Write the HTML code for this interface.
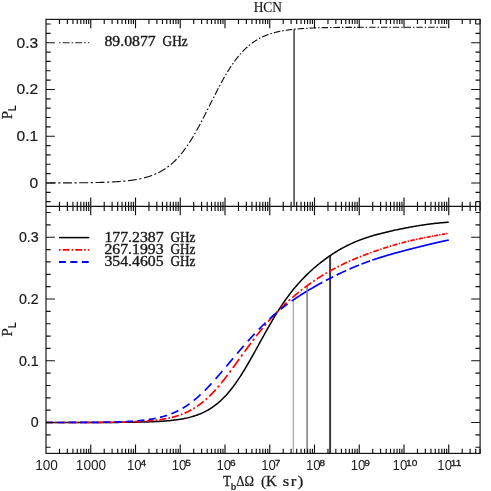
<!DOCTYPE html>
<html><head><meta charset="utf-8"><title>HCN</title>
<style>html,body{margin:0;padding:0;background:#fff;}body{width:491px;height:491px;overflow:hidden;font-family:"Liberation Sans",sans-serif;}svg{display:block;will-change:transform}</style>
</head><body>
<svg width="491" height="491" viewBox="0 0 491 491">
<rect width="491" height="491" fill="#fff"/>
<line x1="294.10" y1="29.23" x2="294.10" y2="206.36" stroke="#3a3a3a" stroke-width="1.45"/>
<path d="M46.00,182.95 L46.25,182.95 L46.50,182.95 L46.76,182.95 L47.01,182.95 L47.26,182.95 L47.51,182.95 L47.76,182.95 L48.02,182.95 L48.27,182.95 L48.52,182.95 L48.77,182.95 L49.02,182.95 L49.27,182.95 L49.53,182.95 L49.78,182.94 L50.03,182.94 L50.28,182.94 L50.53,182.94 L50.79,182.94 L51.04,182.94 L51.29,182.94 L51.54,182.94 L51.79,182.94 L52.05,182.94 L52.30,182.94 L52.55,182.94 L52.80,182.94 L53.05,182.94 L53.30,182.94 L53.56,182.94 L53.81,182.94 L54.06,182.93 L54.31,182.93 L54.56,182.93 L54.82,182.93 L55.07,182.93 L55.32,182.93 L55.57,182.93 L55.70,182.93M58.28,182.92 L58.34,182.92 L58.59,182.92 L58.85,182.92 L59.10,182.92 L59.35,182.92 L59.60,182.92 L59.85,182.92 L60.11,182.92 L60.34,182.91M63.05,182.90 L63.13,182.90 L63.38,182.90 L63.63,182.90 L63.88,182.90 L64.14,182.90 L64.39,182.90 L64.64,182.90 L64.89,182.90 L65.14,182.90 L65.39,182.89 L65.65,182.89 L65.90,182.89 L66.15,182.89 L66.40,182.89 L66.65,182.89 L66.91,182.89 L67.16,182.89 L67.41,182.88 L67.66,182.88 L67.91,182.88 L68.17,182.88 L68.42,182.88 L68.67,182.88 L68.92,182.88 L69.17,182.87 L69.42,182.87 L69.68,182.87 L69.93,182.87 L70.18,182.87 L70.43,182.87 L70.68,182.86 L70.94,182.86 L71.19,182.86 L71.44,182.86 L71.69,182.86 L71.94,182.86 L71.95,182.86M74.53,182.84 L74.71,182.84 L74.97,182.84 L75.22,182.83 L75.47,182.83 L75.72,182.83 L75.97,182.83 L76.23,182.83 L76.48,182.82 L76.60,182.82M79.31,182.80 L79.50,182.80 L79.75,182.79 L80.00,182.79 L80.26,182.79 L80.51,182.79 L80.76,182.78 L81.01,182.78 L81.26,182.78 L81.51,182.77 L81.77,182.77 L82.02,182.77 L82.27,182.77 L82.52,182.76 L82.77,182.76 L83.03,182.76 L83.28,182.75 L83.53,182.75 L83.78,182.75 L84.03,182.75 L84.29,182.74 L84.54,182.74 L84.79,182.74 L85.04,182.73 L85.29,182.73 L85.54,182.73 L85.80,182.72 L86.05,182.72 L86.30,182.72 L86.55,182.71 L86.80,182.71 L87.06,182.70 L87.31,182.70 L87.56,182.70 L87.81,182.69 L88.06,182.69 L88.21,182.69M90.79,182.65 L90.83,182.64 L91.09,182.64 L91.34,182.64 L91.59,182.63 L91.84,182.63 L92.09,182.62 L92.35,182.62 L92.60,182.61 L92.85,182.61 L92.85,182.61M95.56,182.55 L95.62,182.55 L95.87,182.54 L96.12,182.54 L96.38,182.53 L96.63,182.53 L96.88,182.52 L97.13,182.51 L97.38,182.51 L97.63,182.50 L97.89,182.50 L98.14,182.49 L98.39,182.48 L98.64,182.48 L98.89,182.47 L99.15,182.46 L99.40,182.46 L99.65,182.45 L99.90,182.44 L100.15,182.44 L100.41,182.43 L100.66,182.42 L100.91,182.41 L101.16,182.41 L101.41,182.40 L101.66,182.39 L101.92,182.38 L102.17,182.38 L102.42,182.37 L102.67,182.36 L102.92,182.35 L103.18,182.34 L103.43,182.33 L103.68,182.33 L103.93,182.32 L104.18,182.31 L104.44,182.30 L104.46,182.30M107.04,182.20 L107.21,182.20 L107.46,182.19 L107.71,182.17 L107.96,182.16 L108.21,182.15 L108.47,182.14 L108.72,182.13 L108.97,182.12 L109.10,182.12M111.80,181.99 L111.99,181.98 L112.24,181.96 L112.50,181.95 L112.75,181.94 L113.00,181.92 L113.25,181.91 L113.50,181.90 L113.75,181.88 L114.01,181.87 L114.26,181.85 L114.51,181.84 L114.76,181.82 L115.01,181.81 L115.27,181.79 L115.52,181.78 L115.77,181.76 L116.02,181.75 L116.27,181.73 L116.53,181.71 L116.78,181.70 L117.03,181.68 L117.28,181.66 L117.53,181.65 L117.78,181.63 L118.04,181.61 L118.29,181.59 L118.54,181.58 L118.79,181.56 L119.04,181.54 L119.30,181.52 L119.55,181.50 L119.80,181.48 L120.05,181.46 L120.30,181.44 L120.56,181.42 L120.69,181.41M123.26,181.19 L123.33,181.19 L123.58,181.16 L123.83,181.14 L124.08,181.12 L124.33,181.09 L124.59,181.07 L124.84,181.04 L125.09,181.02 L125.31,180.99M128.00,180.70 L128.11,180.69 L128.36,180.66 L128.62,180.63 L128.87,180.60 L129.12,180.57 L129.37,180.54 L129.62,180.51 L129.87,180.48 L130.13,180.44 L130.38,180.41 L130.63,180.38 L130.88,180.34 L131.13,180.31 L131.39,180.28 L131.64,180.24 L131.89,180.21 L132.14,180.17 L132.39,180.14 L132.65,180.10 L132.90,180.06 L133.15,180.02 L133.40,179.99 L133.65,179.95 L133.90,179.91 L134.16,179.87 L134.41,179.83 L134.66,179.79 L134.91,179.75 L135.16,179.71 L135.42,179.67 L135.67,179.62 L135.92,179.58 L136.17,179.54 L136.42,179.49 L136.68,179.45 L136.81,179.42M139.33,178.94 L139.45,178.92 L139.70,178.87 L139.95,178.82 L140.20,178.76 L140.45,178.71 L140.71,178.66 L140.96,178.60 L141.21,178.55 L141.32,178.52M143.90,177.91 L143.98,177.89 L144.23,177.82 L144.48,177.76 L144.74,177.69 L144.99,177.63 L145.24,177.56 L145.49,177.49 L145.74,177.42 L145.99,177.35 L146.25,177.28 L146.50,177.21 L146.75,177.14 L147.00,177.06 L147.25,176.99 L147.51,176.91 L147.76,176.84 L148.01,176.76 L148.26,176.68 L148.51,176.60 L148.77,176.52 L149.02,176.44 L149.27,176.36 L149.52,176.28 L149.77,176.19 L150.02,176.11 L150.28,176.02 L150.53,175.94 L150.78,175.85 L151.03,175.76 L151.28,175.67 L151.54,175.58 L151.79,175.49 L152.04,175.39 L152.14,175.36M154.40,174.47 L154.56,174.40 L154.81,174.30 L155.06,174.19 L155.31,174.08 L155.57,173.97 L155.82,173.86 L156.07,173.75 L156.17,173.70M158.44,172.63 L158.59,172.56 L158.84,172.43 L159.09,172.30 L159.34,172.17 L159.60,172.04 L159.85,171.91 L160.10,171.77 L160.35,171.64 L160.60,171.50 L160.86,171.36 L161.11,171.22 L161.36,171.08 L161.61,170.94 L161.86,170.79 L162.11,170.64 L162.37,170.50 L162.62,170.35 L162.87,170.20 L163.12,170.04 L163.37,169.89 L163.63,169.73 L163.88,169.57 L164.13,169.41 L164.38,169.25 L164.63,169.09 L164.89,168.92 L165.14,168.76 L165.39,168.59 L165.51,168.51M167.42,167.16 L167.66,166.99 L167.91,166.80 L168.16,166.62 L168.41,166.42 L168.66,166.23 L168.91,166.04M170.81,164.51 L170.93,164.41 L171.18,164.19 L171.43,163.98 L171.69,163.76 L171.94,163.54 L172.19,163.32 L172.44,163.10 L172.69,162.87 L172.95,162.64 L173.20,162.41 L173.45,162.18 L173.70,161.94 L173.95,161.71 L174.20,161.47 L174.46,161.23 L174.71,160.98 L174.96,160.74 L175.21,160.49 L175.46,160.24 L175.72,159.98 L175.97,159.73 L176.22,159.47 L176.47,159.21 L176.64,159.04M178.20,157.36 L178.23,157.33 L178.49,157.05 L178.74,156.77 L178.99,156.48 L179.24,156.20 L179.42,156.00M180.97,154.17 L181.01,154.12 L181.26,153.82 L181.51,153.51 L181.76,153.20 L182.01,152.88 L182.27,152.57 L182.52,152.25 L182.77,151.93 L183.02,151.61 L183.27,151.28 L183.52,150.95 L183.78,150.62 L184.03,150.29 L184.28,149.95 L184.53,149.61 L184.78,149.27 L185.04,148.93 L185.29,148.58 L185.54,148.23 L185.75,147.94M187.04,146.10 L187.05,146.09 L187.30,145.72 L187.55,145.35 L187.81,144.98 L188.06,144.61M189.35,142.65 L189.57,142.31 L189.82,141.92 L190.07,141.53 L190.33,141.14 L190.58,140.74 L190.83,140.34 L191.08,139.93 L191.33,139.53 L191.58,139.12 L191.84,138.71 L192.09,138.30 L192.34,137.89 L192.59,137.47 L192.84,137.05 L193.10,136.63 L193.35,136.21 L193.41,136.10M194.53,134.19 L194.61,134.06 L194.86,133.62 L195.11,133.19 L195.36,132.75 L195.41,132.66M196.54,130.65 L196.62,130.52 L196.87,130.06 L197.13,129.61 L197.38,129.15 L197.63,128.70 L197.88,128.24 L198.13,127.78 L198.39,127.31 L198.64,126.85 L198.89,126.38 L199.14,125.91 L199.39,125.45 L199.64,124.97 L199.90,124.50 L200.15,124.03 L200.16,124.01M201.17,122.10 L201.41,121.64 L201.66,121.15 L201.91,120.67 L201.97,120.56M203.01,118.55 L203.17,118.23 L203.42,117.74 L203.67,117.25 L203.93,116.76 L204.18,116.26 L204.43,115.77 L204.68,115.27 L204.93,114.77 L205.19,114.28 L205.44,113.78 L205.69,113.28 L205.94,112.78 L206.19,112.28 L206.37,111.93M207.33,110.02 L207.45,109.77 L207.70,109.27 L207.96,108.77 L208.09,108.50M209.08,106.51 L209.22,106.25 L209.47,105.74 L209.72,105.24 L209.97,104.73 L210.22,104.23 L210.48,103.72 L210.73,103.22 L210.98,102.71 L211.23,102.21 L211.48,101.71 L211.73,101.20 L211.99,100.70 L212.24,100.20 L212.35,99.97M213.29,98.10 L213.50,97.69 L213.75,97.19 L214.00,96.69 L214.04,96.60M215.04,94.65 L215.26,94.21 L215.51,93.71 L215.76,93.22 L216.02,92.73 L216.27,92.23 L216.52,91.74 L216.77,91.25 L217.02,90.77 L217.28,90.28 L217.53,89.79 L217.78,89.31 L218.03,88.83 L218.28,88.34 L218.33,88.26M219.29,86.43 L219.54,85.95 L219.79,85.48 L220.05,85.01 L220.07,84.97M221.09,83.07 L221.31,82.67 L221.56,82.21 L221.81,81.75 L222.06,81.29 L222.31,80.84 L222.57,80.38 L222.82,79.93 L223.07,79.48 L223.32,79.03 L223.57,78.58 L223.82,78.14 L224.08,77.69 L224.33,77.25 L224.53,76.90M225.55,75.14 L225.59,75.08 L225.84,74.65 L226.09,74.22 L226.34,73.80 L226.38,73.74M227.47,71.93 L227.60,71.71 L227.85,71.30 L228.11,70.89 L228.36,70.49 L228.61,70.08 L228.86,69.68 L229.11,69.28 L229.37,68.88 L229.62,68.49 L229.87,68.10 L230.12,67.71 L230.37,67.32 L230.63,66.94 L230.88,66.55 L231.13,66.18 L231.20,66.07M232.32,64.41 L232.39,64.31 L232.64,63.95 L232.89,63.59 L233.14,63.23 L233.23,63.10M234.45,61.40 L234.66,61.12 L234.91,60.78 L235.16,60.44 L235.41,60.10 L235.66,59.76 L235.91,59.43 L236.17,59.10 L236.42,58.77 L236.67,58.45 L236.92,58.13 L237.17,57.81 L237.43,57.49 L237.68,57.17 L237.93,56.86 L238.18,56.55 L238.43,56.25 L238.67,55.96M239.95,54.45 L240.20,54.16 L240.45,53.88 L240.70,53.59 L240.95,53.31 L241.00,53.25M242.41,51.72 L242.46,51.66 L242.72,51.40 L242.97,51.13 L243.22,50.87 L243.47,50.61 L243.72,50.36 L243.97,50.10 L244.23,49.85 L244.48,49.60 L244.73,49.35 L244.98,49.11 L245.23,48.87 L245.49,48.63 L245.74,48.39 L245.99,48.15 L246.24,47.92 L246.49,47.69 L246.75,47.46 L247.00,47.23 L247.25,47.01 L247.31,46.95M248.81,45.66 L249.01,45.49 L249.26,45.28 L249.52,45.08 L249.77,44.87 L250.02,44.67 L250.03,44.66M251.67,43.40 L251.78,43.32 L252.03,43.13 L252.29,42.95 L252.54,42.76 L252.79,42.58 L253.04,42.40 L253.29,42.23 L253.55,42.05 L253.80,41.88 L254.05,41.71 L254.30,41.54 L254.55,41.37 L254.81,41.21 L255.06,41.04 L255.31,40.88 L255.56,40.72 L255.81,40.56 L256.06,40.40 L256.32,40.25 L256.57,40.09 L256.82,39.94 L257.07,39.79 L257.32,39.64M259.03,38.67 L259.09,38.64 L259.34,38.51 L259.59,38.37 L259.84,38.24 L260.09,38.11 L260.35,37.98 L260.41,37.94M262.26,37.03 L262.36,36.98 L262.61,36.87 L262.87,36.75 L263.12,36.63 L263.37,36.52 L263.62,36.41 L263.87,36.30 L264.12,36.19 L264.38,36.08 L264.63,35.97 L264.88,35.86 L265.13,35.76 L265.38,35.65 L265.64,35.55 L265.89,35.45 L266.14,35.35 L266.39,35.25 L266.64,35.15 L266.90,35.06 L267.15,34.96 L267.40,34.86 L267.65,34.77 L267.90,34.68 L268.15,34.59 L268.41,34.50 L268.49,34.47M270.33,33.84 L270.42,33.81 L270.67,33.73 L270.93,33.65 L271.18,33.57 L271.43,33.49 L271.68,33.41 L271.81,33.37M273.77,32.81 L273.95,32.76 L274.20,32.69 L274.45,32.62 L274.70,32.55 L274.96,32.49 L275.21,32.42 L275.46,32.36 L275.71,32.29 L275.96,32.23 L276.21,32.17 L276.47,32.10 L276.72,32.04 L276.97,31.98 L277.22,31.92 L277.47,31.87 L277.73,31.81 L277.98,31.75 L278.23,31.69 L278.48,31.64 L278.73,31.58 L278.99,31.53 L279.24,31.47 L279.49,31.42 L279.74,31.37 L279.99,31.32 L280.24,31.26 L280.27,31.26M282.16,30.89 L282.26,30.88 L282.51,30.83 L282.76,30.78 L283.02,30.74 L283.27,30.70 L283.52,30.65 L283.68,30.62M285.67,30.30 L285.79,30.28 L286.04,30.24 L286.29,30.21 L286.54,30.17 L286.79,30.13 L287.05,30.09 L287.30,30.06 L287.55,30.02 L287.80,29.99 L288.05,29.95 L288.30,29.92 L288.56,29.88 L288.81,29.85 L289.06,29.82 L289.31,29.78 L289.56,29.75 L289.82,29.72 L290.07,29.69 L290.32,29.66 L290.57,29.62 L290.82,29.59 L291.08,29.56 L291.33,29.53 L291.58,29.51 L291.83,29.48 L292.08,29.45 L292.24,29.43M294.14,29.23 L294.35,29.21 L294.60,29.18 L294.85,29.16 L295.11,29.13 L295.36,29.11 L295.61,29.08 L295.66,29.08M297.65,28.90 L297.88,28.88 L298.13,28.86 L298.38,28.84 L298.63,28.82 L298.88,28.80 L299.14,28.78 L299.39,28.76 L299.64,28.74 L299.89,28.72 L300.14,28.70 L300.39,28.68 L300.65,28.66 L300.90,28.64 L301.15,28.63 L301.40,28.61 L301.65,28.59 L301.91,28.57 L302.16,28.56 L302.41,28.54 L302.66,28.52 L302.91,28.51 L303.17,28.49 L303.42,28.47 L303.67,28.46 L303.92,28.44 L304.17,28.43 L304.20,28.42M306.10,28.31 L306.19,28.31 L306.44,28.29 L306.69,28.28 L306.94,28.27 L307.20,28.25 L307.45,28.24 L307.61,28.23M309.60,28.13 L309.71,28.13 L309.97,28.12 L310.22,28.11 L310.47,28.09 L310.72,28.08 L310.97,28.07 L311.23,28.06 L311.48,28.05 L311.73,28.04 L311.98,28.03 L312.23,28.02 L312.48,28.01 L312.74,28.00 L312.99,27.99 L313.24,27.98 L313.49,27.97 L313.74,27.96 L314.00,27.95 L314.25,27.94 L314.50,27.93 L314.75,27.92 L315.00,27.91 L315.26,27.91 L315.51,27.90 L315.76,27.89 L316.01,27.88 L316.15,27.88M318.04,27.81 L318.28,27.81 L318.53,27.80 L318.78,27.79 L319.03,27.79 L319.29,27.78 L319.54,27.77 L319.56,27.77M321.54,27.72 L321.55,27.72 L321.80,27.71 L322.06,27.70 L322.31,27.70 L322.56,27.69 L322.81,27.69 L323.06,27.68 L323.32,27.67 L323.57,27.67 L323.82,27.66 L324.07,27.66 L324.32,27.65 L324.58,27.65 L324.83,27.64 L325.08,27.64 L325.33,27.63 L325.58,27.63 L325.83,27.62 L326.09,27.61 L326.34,27.61 L326.59,27.60 L326.84,27.60 L327.09,27.60 L327.35,27.59 L327.60,27.59 L327.85,27.58 L328.08,27.58M329.97,27.54 L330.12,27.54 L330.37,27.54 L330.62,27.53 L330.87,27.53 L331.12,27.53 L331.38,27.52 L331.48,27.52M333.47,27.49 L333.64,27.49 L333.89,27.49 L334.15,27.48 L334.40,27.48 L334.65,27.48 L334.90,27.47 L335.15,27.47 L335.41,27.47 L335.66,27.46 L335.91,27.46 L336.16,27.46 L336.41,27.45 L336.67,27.45 L336.92,27.45 L337.17,27.45 L337.42,27.44 L337.67,27.44 L337.92,27.44 L338.18,27.43 L338.43,27.43 L338.68,27.43 L338.93,27.43 L339.18,27.42 L339.44,27.42 L339.69,27.42 L339.94,27.42 L339.99,27.42M341.88,27.40 L341.95,27.40 L342.21,27.39 L342.46,27.39 L342.71,27.39 L342.96,27.39 L343.21,27.39 L343.39,27.38M345.38,27.37 L345.48,27.37 L345.73,27.37 L345.98,27.36 L346.24,27.36 L346.49,27.36 L346.74,27.36 L346.99,27.36 L347.24,27.36 L347.50,27.35 L347.75,27.35 L348.00,27.35 L348.25,27.35 L348.50,27.35 L348.76,27.35 L349.01,27.34 L349.26,27.34 L349.51,27.34 L349.76,27.34 L350.01,27.34 L350.27,27.34 L350.52,27.34 L350.77,27.33 L351.02,27.33 L351.27,27.33 L351.53,27.33 L351.78,27.33 L351.89,27.33M353.78,27.32 L353.79,27.32 L354.04,27.32 L354.30,27.32 L354.55,27.31 L354.80,27.31 L355.05,27.31 L355.28,27.31M357.26,27.30 L357.32,27.30 L357.57,27.30 L357.82,27.30 L358.07,27.30 L358.33,27.30 L358.58,27.30 L358.83,27.30 L359.08,27.30 L359.33,27.29 L359.59,27.29 L359.84,27.29 L360.09,27.29 L360.34,27.29 L360.59,27.29 L360.85,27.29 L361.10,27.29 L361.35,27.29 L361.60,27.29 L361.85,27.29 L362.10,27.29 L362.36,27.28 L362.61,27.28 L362.86,27.28 L363.11,27.28 L363.36,27.28 L363.62,27.28 L363.76,27.28M365.65,27.27 L365.88,27.27 L366.13,27.27 L366.39,27.27 L366.64,27.27 L366.89,27.27 L367.14,27.27 L367.15,27.27M369.13,27.27 L369.16,27.27 L369.41,27.27 L369.66,27.27 L369.91,27.26 L370.16,27.26 L370.42,27.26 L370.67,27.26 L370.92,27.26 L371.17,27.26 L371.42,27.26 L371.68,27.26 L371.93,27.26 L372.18,27.26 L372.43,27.26 L372.68,27.26 L372.94,27.26 L373.19,27.26 L373.44,27.26 L373.69,27.26 L373.94,27.26 L374.19,27.26 L374.45,27.26 L374.70,27.26 L374.95,27.26 L375.20,27.25 L375.45,27.25 L375.62,27.25M377.50,27.25 L377.72,27.25 L377.97,27.25 L378.22,27.25 L378.48,27.25 L378.73,27.25 L378.98,27.25 L379.00,27.25M380.98,27.25 L381.00,27.25 L381.25,27.25 L381.50,27.25 L381.75,27.25 L382.00,27.25 L382.25,27.25 L382.51,27.25 L382.76,27.24 L383.01,27.24 L383.26,27.24 L383.51,27.24 L383.77,27.24 L384.02,27.24 L384.27,27.24 L384.52,27.24 L384.77,27.24 L385.03,27.24 L385.28,27.24 L385.53,27.24 L385.78,27.24 L386.03,27.24 L386.28,27.24 L386.54,27.24 L386.79,27.24 L387.04,27.24 L387.29,27.24 L387.46,27.24M389.33,27.24 L389.56,27.24 L389.81,27.24 L390.06,27.24 L390.31,27.24 L390.57,27.24 L390.82,27.24 L390.83,27.24M392.80,27.24 L392.83,27.24 L393.09,27.24 L393.34,27.24 L393.59,27.24 L393.84,27.24 L394.09,27.24 L394.34,27.24 L394.60,27.24 L394.85,27.23 L395.10,27.23 L395.35,27.23 L395.60,27.23 L395.86,27.23 L396.11,27.23 L396.36,27.23 L396.61,27.23 L396.86,27.23 L397.12,27.23 L397.37,27.23 L397.62,27.23 L397.87,27.23 L398.12,27.23 L398.37,27.23 L398.63,27.23 L398.88,27.23 L399.13,27.23 L399.27,27.23M401.15,27.23 L401.40,27.23 L401.65,27.23 L401.90,27.23 L402.15,27.23 L402.40,27.23 L402.64,27.23M404.61,27.23 L404.67,27.23 L404.92,27.23 L405.18,27.23 L405.43,27.23 L405.68,27.23 L405.93,27.23 L406.18,27.23 L406.43,27.23 L406.69,27.23 L406.94,27.23 L407.19,27.23 L407.44,27.23 L407.69,27.23 L407.95,27.23 L408.20,27.23 L408.45,27.23 L408.70,27.23 L408.95,27.23 L409.21,27.23 L409.46,27.23 L409.71,27.23 L409.96,27.23 L410.21,27.23 L410.46,27.23 L410.72,27.23 L410.97,27.23 L411.07,27.23M412.94,27.23 L412.98,27.23 L413.24,27.23 L413.49,27.23 L413.74,27.23 L413.99,27.23 L414.24,27.23 L414.43,27.23M416.40,27.23 L416.51,27.23 L416.76,27.23 L417.01,27.23 L417.27,27.23 L417.52,27.23 L417.77,27.23 L418.02,27.23 L418.27,27.23 L418.52,27.23 L418.78,27.23 L419.03,27.23 L419.28,27.23 L419.53,27.23 L419.78,27.23 L420.04,27.23 L420.29,27.23 L420.54,27.23 L420.79,27.23 L421.04,27.23 L421.30,27.23 L421.55,27.23 L421.80,27.23 L422.05,27.23 L422.30,27.23 L422.55,27.23 L422.81,27.23 L422.84,27.23M424.71,27.23 L424.82,27.23 L425.07,27.23 L425.33,27.23 L425.58,27.23 L425.83,27.23 L426.08,27.23 L426.20,27.23M428.16,27.23 L428.35,27.23 L428.60,27.23 L428.85,27.23 L429.10,27.23 L429.36,27.23 L429.61,27.23 L429.86,27.23 L430.11,27.23 L430.36,27.23 L430.61,27.23 L430.87,27.23 L431.12,27.23 L431.37,27.23 L431.62,27.23 L431.87,27.23 L432.13,27.23 L432.38,27.23 L432.63,27.23 L432.88,27.23 L433.13,27.23 L433.39,27.23 L433.64,27.23 L433.89,27.23 L434.14,27.23 L434.39,27.23 L434.60,27.23M436.46,27.22 L436.66,27.22 L436.91,27.22 L437.16,27.22 L437.42,27.22 L437.67,27.22 L437.92,27.22 L437.95,27.22M439.91,27.22 L439.93,27.22 L440.19,27.22 L440.44,27.22 L440.69,27.22 L440.94,27.22 L441.19,27.22 L441.45,27.22 L441.70,27.22 L441.95,27.22 L442.20,27.22 L442.45,27.22 L442.70,27.22 L442.96,27.22 L443.21,27.22 L443.46,27.22 L443.71,27.22 L443.96,27.22 L444.22,27.22 L444.47,27.22 L444.72,27.22 L444.97,27.22 L445.22,27.22 L445.48,27.22 L445.73,27.22 L445.98,27.22 L446.23,27.22 L446.34,27.22M448.20,27.22 L448.25,27.22 L448.50,27.22 L448.75,27.22" fill="none" stroke="#111" stroke-width="1.15"/>
<line x1="293.30" y1="299.91" x2="293.30" y2="453.40" stroke="#9a9a9a" stroke-width="1.1"/>
<line x1="307.10" y1="285.75" x2="307.10" y2="453.40" stroke="#7c7c7c" stroke-width="1.5"/>
<line x1="330.10" y1="255.65" x2="330.10" y2="453.40" stroke="#3a3a3a" stroke-width="2.0"/>
<path d="M46.00,422.52 L47.01,422.52 L48.02,422.52 L49.03,422.52 L50.04,422.52 L51.05,422.52 L52.06,422.52 L53.07,422.52 L54.08,422.51 L55.08,422.51 L56.09,422.51 L57.10,422.51 L58.11,422.51 L59.12,422.51 L60.13,422.51 L61.14,422.51 L62.15,422.51 L63.16,422.51 L64.17,422.51 L65.18,422.51 L66.19,422.51 L67.20,422.51 L68.21,422.51 L69.22,422.51 L70.23,422.51 L71.23,422.51 L72.24,422.51 L73.25,422.51 L74.26,422.51 L75.27,422.50 L76.28,422.50 L77.29,422.50 L78.30,422.50 L79.31,422.50 L80.32,422.50 L81.33,422.50 L82.34,422.50 L83.35,422.50 L84.36,422.50 L85.37,422.49 L86.38,422.49 L87.39,422.49 L88.39,422.49 L89.40,422.49 L90.41,422.49 L91.42,422.49 L92.43,422.48 L93.44,422.48 L94.45,422.48 L95.46,422.48 L96.47,422.47 L97.48,422.47 L98.49,422.47 L99.50,422.47 L100.51,422.46 L101.52,422.46 L102.53,422.46 L103.54,422.46 L104.55,422.45 L105.55,422.45 L106.56,422.44 L107.57,422.44 L108.58,422.44 L109.59,422.43 L110.60,422.43 L111.61,422.42 L112.62,422.42 L113.63,422.41 L114.64,422.41 L115.65,422.40 L116.66,422.39 L117.67,422.39 L118.68,422.38 L119.69,422.37 L120.70,422.36 L121.70,422.35 L122.71,422.35 L123.72,422.34 L124.73,422.33 L125.74,422.32 L126.75,422.31 L127.76,422.29 L128.77,422.28 L129.78,422.27 L130.79,422.26 L131.80,422.24 L132.81,422.23 L133.82,422.21 L134.83,422.20 L135.84,422.18 L136.85,422.16 L137.86,422.14 L138.86,422.12 L139.87,422.10 L140.88,422.08 L141.89,422.05 L142.90,422.03 L143.91,422.00 L144.92,421.98 L145.93,421.95 L146.94,421.92 L147.95,421.89 L148.96,421.85 L149.97,421.82 L150.98,421.78 L151.99,421.74 L153.00,421.70 L154.01,421.66 L155.02,421.61 L156.02,421.56 L157.03,421.51 L158.04,421.46 L159.05,421.40 L160.06,421.34 L161.07,421.28 L162.08,421.22 L163.09,421.15 L164.10,421.07 L165.11,421.00 L166.12,420.92 L167.13,420.83 L168.14,420.75 L169.15,420.65 L170.16,420.56 L171.17,420.45 L172.17,420.34 L173.18,420.23 L174.19,420.11 L175.20,419.99 L176.21,419.85 L177.22,419.72 L178.23,419.57 L179.24,419.42 L180.25,419.26 L181.26,419.09 L182.27,418.91 L183.28,418.73 L184.29,418.53 L185.30,418.33 L186.31,418.11 L187.32,417.89 L188.33,417.65 L189.33,417.40 L190.34,417.14 L191.35,416.87 L192.36,416.58 L193.37,416.28 L194.38,415.97 L195.39,415.64 L196.40,415.30 L197.41,414.94 L198.42,414.56 L199.43,414.17 L200.44,413.76 L201.45,413.33 L202.46,412.88 L203.47,412.41 L204.48,411.92 L205.48,411.41 L206.49,410.88 L207.50,410.32 L208.51,409.74 L209.52,409.14 L210.53,408.51 L211.54,407.85 L212.55,407.17 L213.56,406.47 L214.57,405.73 L215.58,404.97 L216.59,404.18 L217.60,403.35 L218.61,402.50 L219.62,401.62 L220.63,400.71 L221.64,399.76 L222.64,398.78 L223.65,397.77 L224.66,396.73 L225.67,395.66 L226.68,394.55 L227.69,393.41 L228.70,392.23 L229.71,391.02 L230.72,389.78 L231.73,388.50 L232.74,387.19 L233.75,385.85 L234.76,384.48 L235.77,383.07 L236.78,381.64 L237.79,380.17 L238.80,378.67 L239.80,377.14 L240.81,375.59 L241.82,374.00 L242.83,372.39 L243.84,370.76 L244.85,369.10 L245.86,367.42 L246.87,365.71 L247.88,363.99 L248.89,362.25 L249.90,360.49 L250.91,358.72 L251.92,356.93 L252.93,355.13 L253.94,353.31 L254.95,351.49 L255.95,349.67 L256.96,347.83 L257.97,346.00 L258.98,344.16 L259.99,342.32 L261.00,340.48 L262.01,338.65 L263.02,336.82 L264.03,334.99 L265.04,333.17 L266.05,331.37 L267.06,329.57 L268.07,327.79 L269.08,326.01 L270.09,324.26 L271.10,322.52 L272.11,320.79 L273.11,319.09 L274.12,317.40 L275.13,315.73 L276.14,314.08 L277.15,312.46 L278.16,310.85 L279.17,309.27 L280.18,307.71 L281.19,306.18 L282.20,304.66 L283.21,303.17 L284.22,301.71 L285.23,300.27 L286.24,298.85 L287.25,297.45 L288.26,296.08 L289.27,294.74 L290.27,293.41 L291.28,292.11 L292.29,290.84 L293.30,289.58 L294.31,288.35 L295.32,287.14 L296.33,285.95 L297.34,284.78 L298.35,283.63 L299.36,282.50 L300.37,281.40 L301.38,280.31 L302.39,279.24 L303.40,278.18 L304.41,277.15 L305.42,276.13 L306.42,275.13 L307.43,274.14 L308.44,273.18 L309.45,272.22 L310.46,271.28 L311.47,270.36 L312.48,269.45 L313.49,268.56 L314.50,267.68 L315.51,266.81 L316.52,265.95 L317.53,265.11 L318.54,264.28 L319.55,263.47 L320.56,262.66 L321.57,261.87 L322.58,261.09 L323.58,260.33 L324.59,259.57 L325.60,258.83 L326.61,258.09 L327.62,257.37 L328.63,256.66 L329.64,255.97 L330.65,255.28 L331.66,254.60 L332.67,253.94 L333.68,253.29 L334.69,252.64 L335.70,252.01 L336.71,251.39 L337.72,250.78 L338.73,250.19 L339.73,249.60 L340.74,249.02 L341.75,248.46 L342.76,247.90 L343.77,247.36 L344.78,246.83 L345.79,246.30 L346.80,245.79 L347.81,245.29 L348.82,244.80 L349.83,244.31 L350.84,243.84 L351.85,243.38 L352.86,242.93 L353.87,242.48 L354.88,242.05 L355.89,241.62 L356.89,241.21 L357.90,240.80 L358.91,240.40 L359.92,240.01 L360.93,239.63 L361.94,239.26 L362.95,238.89 L363.96,238.54 L364.97,238.19 L365.98,237.84 L366.99,237.51 L368.00,237.18 L369.01,236.85 L370.02,236.54 L371.03,236.23 L372.04,235.92 L373.05,235.62 L374.05,235.33 L375.06,235.04 L376.07,234.76 L377.08,234.48 L378.09,234.21 L379.10,233.94 L380.11,233.67 L381.12,233.41 L382.13,233.15 L383.14,232.90 L384.15,232.65 L385.16,232.40 L386.17,232.16 L387.18,231.92 L388.19,231.69 L389.20,231.45 L390.20,231.22 L391.21,230.99 L392.22,230.77 L393.23,230.54 L394.24,230.32 L395.25,230.10 L396.26,229.89 L397.27,229.67 L398.28,229.46 L399.29,229.25 L400.30,229.05 L401.31,228.84 L402.32,228.64 L403.33,228.44 L404.34,228.24 L405.35,228.04 L406.36,227.85 L407.36,227.66 L408.37,227.47 L409.38,227.28 L410.39,227.09 L411.40,226.91 L412.41,226.73 L413.42,226.55 L414.43,226.38 L415.44,226.20 L416.45,226.03 L417.46,225.87 L418.47,225.70 L419.48,225.54 L420.49,225.38 L421.50,225.22 L422.51,225.07 L423.52,224.92 L424.52,224.77 L425.53,224.63 L426.54,224.49 L427.55,224.35 L428.56,224.21 L429.57,224.08 L430.58,223.95 L431.59,223.82 L432.60,223.70 L433.61,223.58 L434.62,223.46 L435.63,223.35 L436.64,223.24 L437.65,223.13 L438.66,223.03 L439.67,222.93 L440.67,222.83 L441.68,222.73 L442.69,222.64 L443.70,222.55 L444.71,222.47 L445.72,222.38 L446.73,222.30 L447.74,222.22 L448.75,222.15" fill="none" stroke="#000" stroke-width="1.5"/>
<path d="M46.00,422.51 L46.25,422.51 L46.50,422.51 L46.76,422.51 L47.01,422.51 L47.26,422.51 L47.51,422.51 L47.76,422.51 L48.02,422.51 L48.27,422.51 L48.52,422.51 L48.77,422.51 L49.02,422.51 L49.27,422.51 L49.53,422.51 L49.78,422.51 L50.03,422.51 L50.28,422.51 L50.53,422.51 L50.79,422.51 L51.04,422.51 L51.29,422.51 L51.54,422.51 L51.79,422.51 L52.05,422.51 L52.30,422.51 L52.55,422.51 L52.80,422.51 L52.90,422.51M54.90,422.51 L55.07,422.51 L55.32,422.51 L55.57,422.51 L55.82,422.51 L56.08,422.51 L56.33,422.51 L56.50,422.51M58.60,422.50 L58.85,422.50 L59.10,422.50 L59.35,422.50 L59.60,422.50 L59.85,422.50 L60.11,422.50 L60.36,422.50 L60.61,422.50 L60.86,422.50 L61.11,422.50 L61.36,422.50 L61.62,422.50 L61.87,422.50 L62.12,422.50 L62.37,422.50 L62.62,422.50 L62.88,422.50 L63.13,422.50 L63.38,422.50 L63.63,422.50 L63.88,422.50 L64.14,422.50 L64.39,422.50 L64.64,422.50 L64.89,422.50 L65.14,422.50 L65.39,422.50 L65.50,422.50M67.50,422.49 L67.66,422.49 L67.91,422.49 L68.17,422.49 L68.42,422.49 L68.67,422.49 L68.92,422.49 L69.10,422.49M71.20,422.49 L71.44,422.49 L71.69,422.49 L71.94,422.49 L72.20,422.49 L72.45,422.49 L72.70,422.49 L72.95,422.49 L73.20,422.49 L73.45,422.49 L73.71,422.48 L73.96,422.48 L74.21,422.48 L74.46,422.48 L74.71,422.48 L74.97,422.48 L75.22,422.48 L75.47,422.48 L75.72,422.48 L75.97,422.48 L76.23,422.48 L76.48,422.48 L76.73,422.48 L76.98,422.48 L77.23,422.48 L77.48,422.48 L77.74,422.48 L77.99,422.48 L78.10,422.48M80.10,422.47 L80.26,422.47 L80.51,422.47 L80.76,422.47 L81.01,422.47 L81.26,422.47 L81.51,422.47 L81.70,422.47M83.80,422.46 L84.03,422.46 L84.29,422.46 L84.54,422.46 L84.79,422.46 L85.04,422.46 L85.29,422.46 L85.54,422.46 L85.80,422.45 L86.05,422.45 L86.30,422.45 L86.55,422.45 L86.80,422.45 L87.06,422.45 L87.31,422.45 L87.56,422.45 L87.81,422.45 L88.06,422.45 L88.32,422.45 L88.57,422.44 L88.82,422.44 L89.07,422.44 L89.32,422.44 L89.57,422.44 L89.83,422.44 L90.08,422.44 L90.33,422.44 L90.58,422.44 L90.70,422.44M92.70,422.43 L92.85,422.43 L93.10,422.42 L93.35,422.42 L93.60,422.42 L93.86,422.42 L94.11,422.42 L94.30,422.42M96.40,422.41 L96.63,422.41 L96.88,422.40 L97.13,422.40 L97.38,422.40 L97.63,422.40 L97.89,422.40 L98.14,422.40 L98.39,422.40 L98.64,422.39 L98.89,422.39 L99.15,422.39 L99.40,422.39 L99.65,422.39 L99.90,422.38 L100.15,422.38 L100.41,422.38 L100.66,422.38 L100.91,422.38 L101.16,422.38 L101.41,422.37 L101.66,422.37 L101.92,422.37 L102.17,422.37 L102.42,422.37 L102.67,422.36 L102.92,422.36 L103.18,422.36 L103.30,422.36M105.30,422.34 L105.44,422.34 L105.69,422.34 L105.95,422.34 L106.20,422.33 L106.45,422.33 L106.70,422.33 L106.90,422.33M109.00,422.30 L109.22,422.30 L109.47,422.30 L109.72,422.30 L109.98,422.29 L110.23,422.29 L110.48,422.29 L110.73,422.28 L110.98,422.28 L111.24,422.28 L111.49,422.28 L111.74,422.27 L111.99,422.27 L112.24,422.27 L112.50,422.26 L112.75,422.26 L113.00,422.26 L113.25,422.25 L113.50,422.25 L113.75,422.25 L114.01,422.24 L114.26,422.24 L114.51,422.23 L114.76,422.23 L115.01,422.23 L115.27,422.22 L115.52,422.22 L115.77,422.22 L115.90,422.21M117.90,422.18 L118.04,422.18 L118.29,422.17 L118.54,422.17 L118.79,422.16 L119.04,422.16 L119.30,422.15 L119.50,422.15M121.60,422.11 L121.81,422.10 L122.07,422.10 L122.32,422.09 L122.57,422.09 L122.82,422.08 L123.07,422.08 L123.33,422.07 L123.58,422.07 L123.83,422.06 L124.08,422.05 L124.33,422.05 L124.59,422.04 L124.84,422.03 L125.09,422.03 L125.34,422.02 L125.59,422.02 L125.84,422.01 L126.10,422.00 L126.35,422.00 L126.60,421.99 L126.85,421.98 L127.10,421.98 L127.36,421.97 L127.61,421.96 L127.86,421.95 L128.11,421.95 L128.36,421.94 L128.50,421.94M130.50,421.87 L130.63,421.87 L130.88,421.86 L131.13,421.85 L131.39,421.84 L131.64,421.83 L131.89,421.82 L132.10,421.82M134.20,421.74 L134.41,421.73 L134.66,421.72 L134.91,421.71 L135.16,421.70 L135.42,421.69 L135.67,421.68 L135.92,421.67 L136.17,421.66 L136.42,421.64 L136.68,421.63 L136.93,421.62 L137.18,421.61 L137.43,421.60 L137.68,421.59 L137.93,421.57 L138.19,421.56 L138.44,421.55 L138.69,421.54 L138.94,421.52 L139.19,421.51 L139.45,421.50 L139.70,421.49 L139.95,421.47 L140.20,421.46 L140.45,421.44 L140.71,421.43 L140.96,421.42 L141.10,421.41M143.10,421.29 L143.22,421.28 L143.48,421.27 L143.73,421.25 L143.98,421.23 L144.23,421.22 L144.48,421.20 L144.70,421.19M146.80,421.04 L147.00,421.02 L147.25,421.00 L147.51,420.98 L147.76,420.96 L148.01,420.94 L148.26,420.92 L148.51,420.90 L148.77,420.88 L149.02,420.86 L149.27,420.84 L149.52,420.82 L149.77,420.80 L150.02,420.78 L150.28,420.75 L150.53,420.73 L150.78,420.71 L151.03,420.68 L151.28,420.66 L151.54,420.64 L151.79,420.61 L152.04,420.59 L152.29,420.56 L152.54,420.54 L152.80,420.51 L153.05,420.49 L153.30,420.46 L153.55,420.44 L153.69,420.42M155.69,420.20 L155.82,420.19 L156.07,420.16 L156.32,420.13 L156.57,420.10 L156.83,420.07 L157.08,420.04 L157.29,420.01M159.39,419.73 L159.60,419.70 L159.85,419.67 L160.10,419.63 L160.35,419.60 L160.60,419.56 L160.86,419.52 L161.11,419.48 L161.36,419.45 L161.61,419.41 L161.86,419.37 L162.11,419.33 L162.37,419.29 L162.62,419.25 L162.87,419.21 L163.12,419.17 L163.37,419.12 L163.63,419.08 L163.88,419.04 L164.13,419.00 L164.38,418.95 L164.63,418.91 L164.89,418.86 L165.14,418.82 L165.39,418.77 L165.64,418.72 L165.89,418.68 L166.14,418.63 L166.28,418.60M168.28,418.20 L168.41,418.17 L168.66,418.12 L168.92,418.07 L169.17,418.01 L169.42,417.96 L169.67,417.90 L169.88,417.85M171.97,417.36 L172.19,417.30 L172.44,417.24 L172.69,417.17 L172.95,417.11 L173.20,417.04 L173.45,416.97 L173.70,416.91 L173.95,416.84 L174.20,416.77 L174.46,416.70 L174.71,416.63 L174.96,416.56 L175.21,416.49 L175.46,416.41 L175.72,416.34 L175.97,416.27 L176.22,416.19 L176.47,416.11 L176.72,416.04 L176.98,415.96 L177.23,415.88 L177.48,415.80 L177.73,415.72 L177.98,415.64 L178.23,415.56 L178.49,415.47 L178.74,415.39 L178.84,415.35M180.83,414.65 L181.01,414.59 L181.26,414.50 L181.51,414.40 L181.76,414.31 L182.01,414.21 L182.27,414.11 L182.42,414.05M184.51,413.20 L184.53,413.19 L184.78,413.08 L185.04,412.97 L185.29,412.86 L185.54,412.75 L185.79,412.64 L186.04,412.52 L186.30,412.41 L186.55,412.29 L186.80,412.18 L187.05,412.06 L187.30,411.94 L187.55,411.82 L187.81,411.70 L188.06,411.57 L188.31,411.45 L188.56,411.32 L188.81,411.20 L189.07,411.07 L189.32,410.94 L189.57,410.81 L189.82,410.68 L190.07,410.54 L190.33,410.41 L190.58,410.27 L190.83,410.14 L191.08,410.00 L191.33,409.86 L191.33,409.86M193.30,408.72 L193.35,408.70 L193.60,408.55 L193.85,408.39 L194.10,408.24 L194.36,408.09 L194.61,407.93 L194.86,407.77 L194.88,407.76M196.94,406.41 L197.13,406.28 L197.38,406.11 L197.63,405.94 L197.88,405.76 L198.13,405.59 L198.39,405.41 L198.64,405.23 L198.89,405.05 L199.14,404.87 L199.39,404.68 L199.64,404.50 L199.90,404.31 L200.15,404.12 L200.40,403.93 L200.65,403.74 L200.90,403.55 L201.16,403.35 L201.41,403.16 L201.66,402.96 L201.91,402.76 L202.16,402.56 L202.42,402.36 L202.67,402.15 L202.92,401.95 L203.17,401.74 L203.42,401.53 L203.67,401.33M205.60,399.67 L205.69,399.59 L205.94,399.37 L206.19,399.15 L206.45,398.92 L206.70,398.69 L206.95,398.46 L207.15,398.28M209.17,396.37 L209.22,396.33 L209.47,396.09 L209.72,395.84 L209.97,395.59 L210.22,395.34 L210.48,395.09 L210.73,394.84 L210.98,394.59 L211.23,394.33 L211.48,394.08 L211.73,393.82 L211.99,393.56 L212.24,393.30 L212.49,393.04 L212.74,392.77 L212.99,392.51 L213.25,392.24 L213.50,391.97 L213.75,391.70 L214.00,391.43 L214.25,391.16 L214.51,390.89 L214.76,390.61 L215.01,390.34 L215.26,390.06 L215.51,389.78 L215.75,389.51M217.65,387.36 L217.78,387.21 L218.03,386.92 L218.28,386.62 L218.54,386.33 L218.79,386.03 L219.04,385.74 L219.16,385.59M221.13,383.22 L221.31,383.01 L221.56,382.70 L221.81,382.39 L222.06,382.08 L222.31,381.76 L222.57,381.45 L222.82,381.14 L223.07,380.82 L223.32,380.50 L223.57,380.19 L223.82,379.87 L224.08,379.55 L224.33,379.23 L224.58,378.91 L224.83,378.59 L225.08,378.26 L225.34,377.94 L225.59,377.61 L225.84,377.29 L226.09,376.96 L226.34,376.63 L226.60,376.30 L226.85,375.97 L227.10,375.64 L227.35,375.31 L227.58,375.01M229.44,372.54 L229.62,372.30 L229.87,371.96 L230.12,371.63 L230.37,371.29 L230.63,370.95 L230.88,370.61 L230.92,370.55M232.86,367.90 L232.89,367.86 L233.14,367.52 L233.40,367.17 L233.65,366.83 L233.90,366.48 L234.15,366.14 L234.40,365.79 L234.66,365.44 L234.91,365.09 L235.16,364.75 L235.41,364.40 L235.66,364.05 L235.91,363.70 L236.17,363.35 L236.42,363.00 L236.67,362.66 L236.92,362.31 L237.17,361.96 L237.43,361.61 L237.68,361.26 L237.93,360.91 L238.18,360.56 L238.43,360.21 L238.69,359.86 L238.94,359.51 L239.19,359.16 L239.24,359.09M241.08,356.52 L241.20,356.35 L241.46,356.00 L241.71,355.65 L241.96,355.30 L242.21,354.95 L242.46,354.61 L242.56,354.47M244.50,351.79 L244.73,351.47 L244.98,351.12 L245.23,350.77 L245.49,350.43 L245.74,350.08 L245.99,349.74 L246.24,349.39 L246.49,349.04 L246.75,348.70 L247.00,348.35 L247.25,348.01 L247.50,347.67 L247.75,347.32 L248.00,346.98 L248.26,346.64 L248.51,346.30 L248.76,345.95 L249.01,345.61 L249.26,345.27 L249.52,344.93 L249.77,344.59 L250.02,344.25 L250.27,343.91 L250.52,343.58 L250.78,343.24 L250.89,343.09M252.75,340.62 L252.79,340.56 L253.04,340.23 L253.29,339.89 L253.55,339.56 L253.80,339.23 L254.05,338.90 L254.23,338.66M256.19,336.13 L256.32,335.96 L256.57,335.64 L256.82,335.32 L257.07,335.00 L257.32,334.68 L257.58,334.36 L257.83,334.04 L258.08,333.72 L258.33,333.40 L258.58,333.08 L258.84,332.77 L259.09,332.45 L259.34,332.13 L259.59,331.82 L259.84,331.51 L260.09,331.19 L260.35,330.88 L260.60,330.57 L260.85,330.26 L261.10,329.95 L261.35,329.64 L261.61,329.33 L261.86,329.03 L262.11,328.72 L262.36,328.41 L262.61,328.11 L262.65,328.06M264.54,325.81 L264.63,325.70 L264.88,325.40 L265.13,325.10 L265.38,324.81 L265.64,324.51 L265.89,324.22 L266.04,324.04M268.03,321.75 L268.15,321.60 L268.41,321.32 L268.66,321.03 L268.91,320.75 L269.16,320.46 L269.41,320.18 L269.67,319.90 L269.92,319.62 L270.17,319.34 L270.42,319.06 L270.67,318.78 L270.93,318.50 L271.18,318.22 L271.43,317.94 L271.68,317.67 L271.93,317.39 L272.18,317.12 L272.44,316.85 L272.69,316.57 L272.94,316.30 L273.19,316.03 L273.44,315.76 L273.70,315.49 L273.95,315.22 L274.20,314.95 L274.45,314.68 L274.58,314.55M276.49,312.55 L276.72,312.31 L276.97,312.05 L277.22,311.80 L277.47,311.54 L277.73,311.28 L277.98,311.02 L278.02,310.98M280.03,308.96 L280.24,308.75 L280.50,308.50 L280.75,308.25 L281.00,308.00 L281.25,307.75 L281.50,307.51 L281.76,307.26 L282.01,307.02 L282.26,306.77 L282.51,306.53 L282.76,306.28 L283.02,306.04 L283.27,305.80 L283.52,305.56 L283.77,305.32 L284.02,305.08 L284.27,304.84 L284.53,304.60 L284.78,304.37 L285.03,304.13 L285.28,303.89 L285.53,303.66 L285.79,303.42 L286.04,303.19 L286.29,302.96 L286.54,302.72 L286.66,302.61M288.59,300.85 L288.81,300.66 L289.06,300.43 L289.31,300.20 L289.56,299.98 L289.82,299.75 L290.07,299.53 L290.14,299.47M292.17,297.69 L292.33,297.54 L292.59,297.33 L292.84,297.11 L293.09,296.89 L293.34,296.68 L293.59,296.46 L293.85,296.25 L294.10,296.03 L294.35,295.82 L294.60,295.61 L294.85,295.39 L295.11,295.18 L295.36,294.97 L295.61,294.76 L295.86,294.55 L296.11,294.34 L296.36,294.13 L296.62,293.92 L296.87,293.72 L297.12,293.51 L297.37,293.30 L297.62,293.10 L297.88,292.89 L298.13,292.69 L298.38,292.48 L298.63,292.28 L298.86,292.10M300.80,290.54 L300.90,290.47 L301.15,290.27 L301.40,290.07 L301.65,289.88 L301.91,289.68 L302.16,289.49 L302.36,289.33M304.41,287.76 L304.42,287.75 L304.68,287.55 L304.93,287.36 L305.18,287.18 L305.43,286.99 L305.68,286.80 L305.94,286.61 L306.19,286.42 L306.44,286.24 L306.69,286.05 L306.94,285.86 L307.20,285.68 L307.45,285.49 L307.70,285.31 L307.95,285.12 L308.20,284.94 L308.45,284.76 L308.71,284.58 L308.96,284.39 L309.21,284.21 L309.46,284.03 L309.71,283.85 L309.97,283.67 L310.22,283.49 L310.47,283.31 L310.72,283.14 L310.97,282.96 L311.15,282.84M313.11,281.47 L313.24,281.38 L313.49,281.21 L313.74,281.04 L314.00,280.87 L314.25,280.70 L314.50,280.52 L314.67,280.41M316.73,279.03 L316.77,279.01 L317.02,278.85 L317.27,278.68 L317.52,278.52 L317.77,278.35 L318.03,278.19 L318.28,278.02 L318.53,277.86 L318.78,277.70 L319.03,277.54 L319.29,277.38 L319.54,277.21 L319.79,277.05 L320.04,276.89 L320.29,276.73 L320.55,276.58 L320.80,276.42 L321.05,276.26 L321.30,276.10 L321.55,275.94 L321.80,275.79 L322.06,275.63 L322.31,275.48 L322.56,275.32 L322.81,275.17 L323.06,275.01 L323.32,274.86 L323.51,274.74M325.45,273.57 L325.58,273.49 L325.83,273.34 L326.09,273.20 L326.34,273.05 L326.59,272.90 L326.84,272.75 L327.00,272.66M329.01,271.50 L329.11,271.45 L329.36,271.30 L329.61,271.16 L329.86,271.02 L330.12,270.88 L330.37,270.74 L330.62,270.59 L330.87,270.45 L331.12,270.31 L331.38,270.17 L331.63,270.04 L331.88,269.90 L332.13,269.76 L332.38,269.62 L332.64,269.48 L332.89,269.35 L333.14,269.21 L333.39,269.07 L333.64,268.94 L333.89,268.80 L334.15,268.67 L334.40,268.53 L334.65,268.40 L334.90,268.27 L335.15,268.13 L335.41,268.00 L335.58,267.91M337.44,266.94 L337.67,266.82 L337.92,266.70 L338.18,266.57 L338.43,266.44 L338.68,266.31 L338.91,266.19M340.84,265.23 L340.95,265.18 L341.20,265.06 L341.45,264.93 L341.70,264.81 L341.95,264.69 L342.21,264.57 L342.46,264.44 L342.71,264.32 L342.96,264.20 L343.21,264.08 L343.47,263.96 L343.72,263.84 L343.97,263.72 L344.22,263.60 L344.47,263.48 L344.73,263.36 L344.98,263.24 L345.23,263.13 L345.48,263.01 L345.73,262.89 L345.98,262.78 L346.24,262.66 L346.49,262.54 L346.74,262.43 L346.99,262.31 L347.12,262.25M348.89,261.45 L349.01,261.40 L349.26,261.29 L349.51,261.17 L349.76,261.06 L350.01,260.95 L350.27,260.84 L350.30,260.83M352.14,260.02 L352.28,259.96 L352.53,259.85 L352.79,259.74 L353.04,259.64 L353.29,259.53 L353.54,259.42 L353.79,259.31 L354.04,259.21 L354.30,259.10 L354.55,258.99 L354.80,258.89 L355.05,258.78 L355.30,258.68 L355.56,258.57 L355.81,258.47 L356.06,258.36 L356.31,258.26 L356.56,258.15 L356.82,258.05 L357.07,257.95 L357.32,257.84 L357.57,257.74 L357.82,257.64 L358.07,257.54 L358.13,257.51M359.82,256.83 L359.84,256.83 L360.09,256.73 L360.34,256.63 L360.59,256.53 L360.85,256.43 L361.10,256.33 L361.16,256.30M362.92,255.62 L363.11,255.54 L363.36,255.45 L363.62,255.35 L363.87,255.25 L364.12,255.15 L364.37,255.06 L364.62,254.96 L364.88,254.87 L365.13,254.77 L365.38,254.68 L365.63,254.58 L365.88,254.49 L366.13,254.39 L366.39,254.30 L366.64,254.20 L366.89,254.11 L367.14,254.01 L367.39,253.92 L367.65,253.83 L367.90,253.73 L368.15,253.64 L368.40,253.55 L368.63,253.46M370.25,252.87 L370.42,252.81 L370.67,252.72 L370.92,252.63 L371.17,252.54 L371.42,252.45 L371.54,252.41M373.21,251.81 L373.44,251.73 L373.69,251.64 L373.94,251.55 L374.19,251.47 L374.45,251.38 L374.70,251.29 L374.95,251.20 L375.20,251.11 L375.45,251.03 L375.71,250.94 L375.96,250.85 L376.21,250.77 L376.46,250.68 L376.71,250.59 L376.97,250.51 L377.22,250.42 L377.47,250.33 L377.72,250.25 L377.97,250.16 L378.22,250.08 L378.48,249.99 L378.66,249.93M380.20,249.41 L380.24,249.40 L380.49,249.32 L380.74,249.23 L381.00,249.15 L381.25,249.06 L381.49,248.98M383.08,248.46 L383.26,248.40 L383.51,248.32 L383.77,248.24 L384.02,248.16 L384.27,248.08 L384.52,248.00 L384.77,247.92 L385.03,247.84 L385.28,247.76 L385.53,247.68 L385.78,247.60 L386.03,247.52 L386.28,247.44 L386.54,247.36 L386.79,247.28 L387.04,247.20 L387.29,247.12 L387.54,247.04 L387.80,246.96 L388.05,246.88 L388.27,246.81M389.74,246.36 L389.81,246.34 L390.06,246.26 L390.31,246.18 L390.57,246.11 L390.82,246.03 L391.03,245.97M392.55,245.51 L392.58,245.50 L392.83,245.43 L393.09,245.35 L393.34,245.28 L393.59,245.20 L393.84,245.13 L394.09,245.06 L394.34,244.98 L394.60,244.91 L394.85,244.84 L395.10,244.76 L395.35,244.69 L395.60,244.62 L395.86,244.55 L396.11,244.47 L396.36,244.40 L396.61,244.33 L396.86,244.26 L397.12,244.19 L397.37,244.12 L397.49,244.08M398.88,243.69 L399.13,243.62 L399.38,243.55 L399.63,243.49 L399.89,243.42 L400.14,243.35 L400.18,243.34M401.62,242.95 L401.65,242.94 L401.90,242.87 L402.15,242.81 L402.40,242.74 L402.66,242.67 L402.91,242.61 L403.16,242.54 L403.41,242.47 L403.66,242.41 L403.92,242.34 L404.17,242.28 L404.42,242.21 L404.67,242.15 L404.92,242.08 L405.18,242.02 L405.43,241.95 L405.68,241.89 L405.93,241.83 L406.18,241.76 L406.32,241.73M407.65,241.40 L407.69,241.39 L407.95,241.33 L408.20,241.26 L408.45,241.20 L408.70,241.14 L408.95,241.08M410.32,240.75 L410.46,240.72 L410.72,240.66 L410.97,240.60 L411.22,240.54 L411.47,240.48 L411.72,240.42 L411.98,240.36 L412.23,240.31 L412.48,240.25 L412.73,240.19 L412.98,240.13 L413.24,240.08 L413.49,240.02 L413.74,239.96 L413.99,239.91 L414.24,239.85 L414.49,239.79 L414.75,239.74 L414.79,239.73M416.05,239.45 L416.26,239.40 L416.51,239.35 L416.76,239.30 L417.01,239.24 L417.27,239.19 L417.35,239.17M418.66,238.89 L418.78,238.87 L419.03,238.82 L419.28,238.76 L419.53,238.71 L419.78,238.66 L420.04,238.61 L420.29,238.55 L420.54,238.50 L420.79,238.45 L421.04,238.40 L421.30,238.35 L421.55,238.30 L421.80,238.25 L422.05,238.20 L422.30,238.15 L422.55,238.10 L422.81,238.05 L422.91,238.03M424.11,237.79 L424.32,237.75 L424.57,237.70 L424.82,237.65 L425.07,237.60 L425.33,237.55 L425.41,237.54M426.65,237.30 L426.84,237.26 L427.09,237.22 L427.34,237.17 L427.59,237.12 L427.84,237.07 L428.10,237.03 L428.35,236.98 L428.60,236.93 L428.85,236.88 L429.10,236.84 L429.36,236.79 L429.61,236.74 L429.86,236.70 L430.11,236.65 L430.36,236.60 L430.61,236.56 L430.69,236.54M431.83,236.33 L431.87,236.33 L432.13,236.28 L432.38,236.23 L432.63,236.19 L432.88,236.14 L433.13,236.10M434.31,235.88 L434.39,235.87 L434.64,235.82 L434.90,235.78 L435.15,235.73 L435.40,235.68 L435.65,235.64 L435.90,235.59 L436.16,235.55 L436.41,235.50 L436.66,235.46 L436.91,235.41 L437.16,235.36 L437.42,235.32 L437.67,235.27 L437.92,235.23 L438.14,235.19M439.23,234.99 L439.43,234.95 L439.68,234.90 L439.93,234.86 L440.19,234.81 L440.44,234.76 L440.52,234.75M441.64,234.54 L441.70,234.53 L441.95,234.48 L442.20,234.44 L442.45,234.39 L442.70,234.34 L442.96,234.29 L443.21,234.25 L443.46,234.20 L443.71,234.15 L443.96,234.10 L444.22,234.06 L444.47,234.01 L444.72,233.96 L444.97,233.91 L445.22,233.86 L445.28,233.85M446.31,233.65 L446.48,233.62 L446.73,233.57 L446.99,233.52 L447.24,233.47 L447.49,233.42 L447.61,233.39M448.67,233.18 L448.75,233.16" fill="none" stroke="#f00" stroke-width="1.7"/>
<path d="M46.00,422.50 L46.25,422.50 L46.50,422.50 L46.76,422.50 L47.01,422.50 L47.26,422.50 L47.51,422.50 L47.76,422.50 L48.02,422.50 L48.27,422.50 L48.52,422.50 L48.77,422.50 L49.02,422.50 L49.27,422.50 L49.53,422.50 L49.78,422.50 L50.03,422.50 L50.28,422.50 L50.53,422.50 L50.79,422.50 L51.04,422.50 L51.29,422.50 L51.54,422.50 L51.79,422.50 L52.05,422.50 L52.30,422.50 L52.55,422.50 L52.80,422.50 L53.05,422.50 L53.10,422.50M57.40,422.49 L57.59,422.49 L57.84,422.49 L58.09,422.49 L58.34,422.49 L58.59,422.49 L58.85,422.49 L59.10,422.49 L59.35,422.49 L59.60,422.49 L59.85,422.49 L60.11,422.49 L60.36,422.49 L60.61,422.49 L60.86,422.49 L61.11,422.49 L61.36,422.48 L61.62,422.48 L61.87,422.48 L62.12,422.48 L62.37,422.48 L62.62,422.48 L62.88,422.48 L63.13,422.48 L63.38,422.48 L63.63,422.48 L63.88,422.48 L64.14,422.48 L64.39,422.48 L64.50,422.48M68.80,422.47 L68.92,422.47 L69.17,422.47 L69.42,422.47 L69.68,422.47 L69.93,422.47 L70.18,422.46 L70.43,422.46 L70.68,422.46 L70.94,422.46 L71.19,422.46 L71.44,422.46 L71.69,422.46 L71.94,422.46 L72.20,422.46 L72.45,422.46 L72.70,422.46 L72.95,422.46 L73.20,422.46 L73.45,422.45 L73.71,422.45 L73.96,422.45 L74.21,422.45 L74.46,422.45 L74.71,422.45 L74.97,422.45 L75.22,422.45 L75.47,422.45 L75.72,422.45 L75.90,422.45M80.20,422.43 L80.26,422.43 L80.51,422.43 L80.76,422.42 L81.01,422.42 L81.26,422.42 L81.51,422.42 L81.77,422.42 L82.02,422.42 L82.27,422.42 L82.52,422.42 L82.77,422.41 L83.03,422.41 L83.28,422.41 L83.53,422.41 L83.78,422.41 L84.03,422.41 L84.29,422.41 L84.54,422.40 L84.79,422.40 L85.04,422.40 L85.29,422.40 L85.54,422.40 L85.80,422.40 L86.05,422.40 L86.30,422.39 L86.55,422.39 L86.80,422.39 L87.06,422.39 L87.30,422.39M91.60,422.35 L91.84,422.35 L92.09,422.35 L92.35,422.35 L92.60,422.35 L92.85,422.34 L93.10,422.34 L93.35,422.34 L93.60,422.34 L93.86,422.33 L94.11,422.33 L94.36,422.33 L94.61,422.33 L94.86,422.32 L95.12,422.32 L95.37,422.32 L95.62,422.32 L95.87,422.31 L96.12,422.31 L96.38,422.31 L96.63,422.31 L96.88,422.30 L97.13,422.30 L97.38,422.30 L97.63,422.29 L97.89,422.29 L98.14,422.29 L98.39,422.28 L98.64,422.28 L98.70,422.28M103.00,422.22 L103.18,422.22 L103.43,422.22 L103.68,422.21 L103.93,422.21 L104.18,422.20 L104.44,422.20 L104.69,422.20 L104.94,422.19 L105.19,422.19 L105.44,422.18 L105.69,422.18 L105.95,422.17 L106.20,422.17 L106.45,422.16 L106.70,422.16 L106.95,422.16 L107.21,422.15 L107.46,422.15 L107.71,422.14 L107.96,422.14 L108.21,422.13 L108.47,422.13 L108.72,422.12 L108.97,422.12 L109.22,422.11 L109.47,422.11 L109.72,422.10 L109.98,422.09 L110.10,422.09M114.40,421.99 L114.51,421.98 L114.76,421.98 L115.01,421.97 L115.27,421.96 L115.52,421.96 L115.77,421.95 L116.02,421.94 L116.27,421.93 L116.53,421.93 L116.78,421.92 L117.03,421.91 L117.28,421.90 L117.53,421.89 L117.78,421.89 L118.04,421.88 L118.29,421.87 L118.54,421.86 L118.79,421.85 L119.04,421.84 L119.30,421.84 L119.55,421.83 L119.80,421.82 L120.05,421.81 L120.30,421.80 L120.56,421.79 L120.81,421.78 L121.06,421.77 L121.31,421.76 L121.50,421.75M125.80,421.57 L125.84,421.57 L126.10,421.55 L126.35,421.54 L126.60,421.53 L126.85,421.51 L127.10,421.50 L127.36,421.49 L127.61,421.48 L127.86,421.46 L128.11,421.45 L128.36,421.44 L128.62,421.42 L128.87,421.41 L129.12,421.39 L129.37,421.38 L129.62,421.36 L129.87,421.35 L130.13,421.33 L130.38,421.32 L130.63,421.30 L130.88,421.29 L131.13,421.27 L131.39,421.26 L131.64,421.24 L131.89,421.22 L132.14,421.21 L132.39,421.19 L132.65,421.17 L132.90,421.16 L132.90,421.16M137.20,420.83 L137.43,420.81 L137.68,420.79 L137.93,420.76 L138.19,420.74 L138.44,420.72 L138.69,420.70 L138.94,420.67 L139.19,420.65 L139.45,420.63 L139.70,420.60 L139.95,420.58 L140.20,420.55 L140.45,420.53 L140.71,420.50 L140.96,420.48 L141.21,420.45 L141.46,420.42 L141.71,420.40 L141.96,420.37 L142.22,420.34 L142.47,420.32 L142.72,420.29 L142.97,420.26 L143.22,420.23 L143.48,420.20 L143.73,420.17 L143.98,420.15 L144.23,420.12 L144.29,420.11M148.59,419.54 L148.77,419.51 L149.02,419.48 L149.27,419.44 L149.52,419.40 L149.77,419.36 L150.02,419.32 L150.28,419.28 L150.53,419.24 L150.78,419.20 L151.03,419.16 L151.28,419.12 L151.54,419.08 L151.79,419.03 L152.04,418.99 L152.29,418.95 L152.54,418.90 L152.80,418.86 L153.05,418.81 L153.30,418.77 L153.55,418.72 L153.80,418.67 L154.05,418.63 L154.31,418.58 L154.56,418.53 L154.81,418.48 L155.06,418.43 L155.31,418.38 L155.57,418.33 L155.68,418.31M159.97,417.35 L160.10,417.32 L160.35,417.25 L160.60,417.19 L160.86,417.13 L161.11,417.06 L161.36,417.00 L161.61,416.93 L161.86,416.86 L162.11,416.80 L162.37,416.73 L162.62,416.66 L162.87,416.59 L163.12,416.52 L163.37,416.45 L163.63,416.38 L163.88,416.30 L164.13,416.23 L164.38,416.15 L164.63,416.08 L164.89,416.00 L165.14,415.93 L165.39,415.85 L165.64,415.77 L165.89,415.69 L166.14,415.61 L166.40,415.53 L166.65,415.45 L166.90,415.37 L167.04,415.32M171.32,413.77 L171.43,413.73 L171.69,413.63 L171.94,413.52 L172.19,413.42 L172.44,413.32 L172.69,413.22 L172.95,413.11 L173.20,413.00 L173.45,412.90 L173.70,412.79 L173.95,412.68 L174.20,412.57 L174.46,412.46 L174.71,412.35 L174.96,412.23 L175.21,412.12 L175.46,412.00 L175.72,411.89 L175.97,411.77 L176.22,411.65 L176.47,411.53 L176.72,411.41 L176.98,411.29 L177.23,411.17 L177.48,411.04 L177.73,410.92 L177.98,410.79 L178.23,410.66 L178.35,410.60M182.60,408.27 L182.77,408.17 L183.02,408.02 L183.27,407.87 L183.52,407.72 L183.78,407.56 L184.03,407.41 L184.28,407.25 L184.53,407.10 L184.78,406.94 L185.04,406.78 L185.29,406.62 L185.54,406.46 L185.79,406.29 L186.04,406.13 L186.30,405.96 L186.55,405.80 L186.80,405.63 L187.05,405.46 L187.30,405.29 L187.55,405.12 L187.81,404.94 L188.06,404.77 L188.31,404.59 L188.56,404.42 L188.81,404.24 L189.07,404.06 L189.32,403.88 L189.56,403.70M193.75,400.49 L193.85,400.41 L194.10,400.21 L194.36,400.00 L194.61,399.80 L194.86,399.59 L195.11,399.38 L195.36,399.17 L195.61,398.96 L195.87,398.75 L196.12,398.53 L196.37,398.32 L196.62,398.10 L196.87,397.88 L197.13,397.67 L197.38,397.45 L197.63,397.22 L197.88,397.00 L198.13,396.78 L198.39,396.55 L198.64,396.33 L198.89,396.10 L199.14,395.87 L199.39,395.64 L199.64,395.41 L199.90,395.18 L200.15,394.95 L200.40,394.72 L200.62,394.51M204.75,390.51 L204.93,390.33 L205.19,390.08 L205.44,389.82 L205.69,389.57 L205.94,389.31 L206.19,389.05 L206.45,388.79 L206.70,388.53 L206.95,388.27 L207.20,388.01 L207.45,387.75 L207.70,387.49 L207.96,387.23 L208.21,386.96 L208.46,386.70 L208.71,386.43 L208.96,386.16 L209.22,385.90 L209.47,385.63 L209.72,385.36 L209.97,385.09 L210.22,384.82 L210.48,384.55 L210.73,384.27 L210.98,384.00 L211.23,383.73 L211.48,383.45 L211.52,383.41M215.60,378.87 L215.76,378.68 L216.02,378.40 L216.27,378.11 L216.52,377.82 L216.77,377.54 L217.02,377.25 L217.28,376.96 L217.53,376.67 L217.78,376.38 L218.03,376.09 L218.28,375.80 L218.54,375.51 L218.79,375.22 L219.04,374.93 L219.29,374.64 L219.54,374.35 L219.79,374.05 L220.05,373.76 L220.30,373.47 L220.55,373.17 L220.80,372.88 L221.05,372.58 L221.31,372.29 L221.56,372.00 L221.81,371.70 L222.06,371.40 L222.31,371.11M226.36,366.32 L226.60,366.05 L226.85,365.75 L227.10,365.45 L227.35,365.15 L227.60,364.85 L227.85,364.55 L228.11,364.25 L228.36,363.95 L228.61,363.65 L228.86,363.35 L229.11,363.05 L229.37,362.75 L229.62,362.45 L229.87,362.15 L230.12,361.85 L230.37,361.55 L230.63,361.25 L230.88,360.95 L231.13,360.66 L231.38,360.36 L231.63,360.06 L231.88,359.76 L232.14,359.46 L232.39,359.16 L232.64,358.86 L232.89,358.56 L233.05,358.37M237.10,353.58 L237.17,353.49 L237.43,353.20 L237.68,352.90 L237.93,352.61 L238.18,352.31 L238.43,352.01 L238.69,351.72 L238.94,351.42 L239.19,351.13 L239.44,350.83 L239.69,350.54 L239.94,350.25 L240.20,349.95 L240.45,349.66 L240.70,349.37 L240.95,349.07 L241.20,348.78 L241.46,348.49 L241.71,348.20 L241.96,347.90 L242.21,347.61 L242.46,347.32 L242.72,347.03 L242.97,346.74 L243.22,346.45 L243.47,346.16 L243.72,345.87 L243.81,345.78M247.88,341.16 L248.00,341.01 L248.26,340.73 L248.51,340.45 L248.76,340.17 L249.01,339.89 L249.26,339.61 L249.52,339.33 L249.77,339.05 L250.02,338.77 L250.27,338.49 L250.52,338.21 L250.78,337.93 L251.03,337.66 L251.28,337.38 L251.53,337.11 L251.78,336.83 L252.03,336.55 L252.29,336.28 L252.54,336.01 L252.79,335.73 L253.04,335.46 L253.29,335.19 L253.55,334.92 L253.80,334.64 L254.05,334.37 L254.30,334.10 L254.55,333.83 L254.62,333.76M258.72,329.45 L258.84,329.33 L259.09,329.07 L259.34,328.81 L259.59,328.56 L259.84,328.30 L260.09,328.04 L260.35,327.78 L260.60,327.53 L260.85,327.27 L261.10,327.02 L261.35,326.77 L261.61,326.51 L261.86,326.26 L262.11,326.01 L262.36,325.76 L262.61,325.51 L262.87,325.26 L263.12,325.01 L263.37,324.76 L263.62,324.51 L263.87,324.26 L264.12,324.01 L264.38,323.77 L264.63,323.52 L264.88,323.28 L265.13,323.03 L265.38,322.79 L265.52,322.66M269.66,318.76 L269.67,318.75 L269.92,318.52 L270.17,318.29 L270.42,318.06 L270.67,317.83 L270.93,317.60 L271.18,317.38 L271.43,317.15 L271.68,316.92 L271.93,316.70 L272.18,316.47 L272.44,316.25 L272.69,316.02 L272.94,315.80 L273.19,315.58 L273.44,315.36 L273.70,315.13 L273.95,314.91 L274.20,314.69 L274.45,314.48 L274.70,314.26 L274.96,314.04 L275.21,313.82 L275.46,313.61 L275.71,313.39 L275.96,313.18 L276.21,312.96 L276.47,312.75 L276.53,312.70M280.70,309.26 L280.75,309.22 L281.00,309.02 L281.25,308.82 L281.50,308.62 L281.76,308.42 L282.01,308.22 L282.26,308.02 L282.51,307.82 L282.76,307.63 L283.02,307.43 L283.27,307.23 L283.52,307.04 L283.77,306.84 L284.02,306.65 L284.27,306.46 L284.53,306.26 L284.78,306.07 L285.03,305.88 L285.28,305.69 L285.53,305.50 L285.79,305.31 L286.04,305.12 L286.29,304.93 L286.54,304.74 L286.79,304.56 L287.05,304.37 L287.30,304.18 L287.55,304.00 L287.62,303.95M291.82,300.93 L291.83,300.93 L292.08,300.75 L292.33,300.57 L292.59,300.40 L292.84,300.23 L293.09,300.05 L293.34,299.88 L293.59,299.71 L293.85,299.53 L294.10,299.36 L294.35,299.19 L294.60,299.02 L294.85,298.85 L295.11,298.68 L295.36,298.51 L295.61,298.34 L295.86,298.17 L296.11,298.00 L296.36,297.83 L296.62,297.67 L296.87,297.50 L297.12,297.33 L297.37,297.17 L297.62,297.00 L297.88,296.84 L298.13,296.67 L298.38,296.51 L298.63,296.34 L298.88,296.18 L299.14,296.02 L299.39,295.85 L299.64,295.69 L299.89,295.53 L300.14,295.37 L300.39,295.21 L300.65,295.05 L300.90,294.88 L301.15,294.72 L301.40,294.57 L301.65,294.41 L301.91,294.25 L302.16,294.09 L302.41,293.93 L302.66,293.77 L302.91,293.62 L303.17,293.46 L303.42,293.30 L303.67,293.14 L303.92,292.99 L304.17,292.83 L304.42,292.68 L304.68,292.52 L304.93,292.37 L305.18,292.21 L305.43,292.06 L305.68,291.91 L305.94,291.75 L306.19,291.60 L306.44,291.45 L306.55,291.38M307.53,290.79 L307.70,290.69 L307.95,290.54 L308.20,290.39 L308.45,290.24 L308.71,290.09 L308.96,289.94 L309.21,289.79 L309.46,289.64 L309.71,289.49 L309.97,289.34 L310.22,289.19 L310.47,289.04 L310.72,288.90 L310.97,288.75 L311.23,288.60 L311.48,288.46 L311.73,288.31 L311.98,288.16 L312.23,288.02 L312.48,287.87 L312.74,287.73 L312.99,287.58 L313.24,287.43 L313.49,287.29 L313.74,287.15 L314.00,287.00 L314.25,286.86 L314.50,286.71 L314.75,286.57 L315.00,286.43 L315.26,286.28 L315.51,286.14 L315.76,286.00 L316.01,285.86 L316.26,285.71 L316.52,285.57 L316.77,285.43 L317.02,285.29 L317.27,285.15 L317.52,285.01 L317.77,284.87 L318.03,284.73 L318.28,284.59 L318.53,284.45 L318.78,284.31 L319.03,284.17 L319.29,284.03 L319.54,283.89 L319.79,283.75 L320.04,283.61 L320.29,283.48 L320.55,283.34 L320.80,283.20 L321.05,283.06 L321.30,282.93 L321.55,282.79 L321.80,282.65 L322.06,282.52 L322.31,282.38 L322.32,282.38M325.87,280.48 L326.09,280.36 L326.34,280.23 L326.59,280.10 L326.84,279.96 L327.09,279.83 L327.35,279.70 L327.60,279.57 L327.85,279.44 L328.10,279.31 L328.35,279.18 L328.61,279.05 L328.86,278.92 L329.11,278.79 L329.36,278.66 L329.61,278.53 L329.86,278.40 L330.12,278.27 L330.37,278.14 L330.62,278.01 L330.87,277.88 L331.12,277.75 L331.38,277.62 L331.63,277.50 L331.88,277.37 L332.13,277.24 L332.38,277.11 L332.64,276.99 L332.89,276.86 L333.08,276.76M336.65,275.00 L336.67,274.99 L336.92,274.86 L337.17,274.74 L337.42,274.62 L337.67,274.50 L337.92,274.37 L338.18,274.25 L338.43,274.13 L338.68,274.01 L338.93,273.89 L339.18,273.77 L339.44,273.65 L339.69,273.53 L339.94,273.41 L340.19,273.29 L340.44,273.17 L340.70,273.05 L340.95,272.93 L341.20,272.81 L341.45,272.69 L341.70,272.57 L341.95,272.45 L342.21,272.34 L342.46,272.22 L342.71,272.10 L342.96,271.98 L343.21,271.87 L343.47,271.75 L343.72,271.63 L343.97,271.52 L344.22,271.40 L344.47,271.29 L344.73,271.17 L344.98,271.06 L345.23,270.94 L345.48,270.83 L345.73,270.71 L345.98,270.60 L346.05,270.57M349.52,269.02 L349.76,268.92 L350.01,268.81 L350.27,268.70 L350.52,268.59 L350.77,268.48 L351.02,268.37 L351.27,268.26 L351.53,268.15 L351.78,268.04 L352.03,267.93 L352.28,267.83 L352.53,267.72 L352.79,267.61 L353.04,267.51 L353.29,267.40 L353.54,267.29 L353.79,267.19 L354.04,267.08 L354.30,266.97 L354.55,266.87 L354.80,266.76 L355.05,266.66 L355.30,266.55 L355.56,266.45 L355.81,266.35 L356.06,266.24 L356.31,266.14 L356.56,266.04 L356.82,265.93 L357.07,265.83 L357.32,265.73 L357.57,265.63 L357.82,265.52 L358.07,265.42 L358.33,265.32 L358.58,265.22 L358.83,265.12 L358.95,265.07M361.43,264.09 L361.60,264.03 L361.85,263.93 L362.10,263.83 L362.36,263.73 L362.61,263.64 L362.86,263.54 L363.11,263.45 L363.36,263.35 L363.62,263.25 L363.87,263.16 L364.12,263.06 L364.37,262.97 L364.62,262.87 L364.88,262.78 L365.13,262.68 L365.38,262.59 L365.63,262.50 L365.88,262.40 L366.13,262.31 L366.39,262.22 L366.64,262.12 L366.89,262.03 L367.14,261.94 L367.39,261.85 L367.65,261.76 L367.90,261.66 L368.15,261.57 L368.40,261.48 L368.65,261.39 L368.91,261.30 L369.16,261.21 L369.41,261.12 L369.66,261.03 L369.91,260.94 L369.98,260.92M372.36,260.09 L372.43,260.06 L372.68,259.98 L372.94,259.89 L373.19,259.80 L373.44,259.72 L373.69,259.63 L373.94,259.55 L374.19,259.46 L374.45,259.38 L374.70,259.29 L374.95,259.21 L375.20,259.12 L375.45,259.04 L375.71,258.96 L375.96,258.87 L376.21,258.79 L376.46,258.71 L376.71,258.62 L376.97,258.54 L377.22,258.46 L377.47,258.38 L377.72,258.29 L377.97,258.21 L378.22,258.13 L378.48,258.05 L378.73,257.97 L378.98,257.89 L379.23,257.81 L379.48,257.73 L379.63,257.68M379.63,257.68 L379.74,257.65 L379.99,257.57 L380.24,257.49 L380.49,257.41 L380.74,257.33 L381.00,257.25 L381.25,257.17 L381.50,257.09 L381.75,257.01 L382.00,256.94 L382.25,256.86 L382.51,256.78 L382.76,256.70 L383.01,256.63 L383.26,256.55 L383.51,256.47 L383.77,256.40 L384.02,256.32 L384.27,256.24 L384.52,256.17 L384.77,256.09 L385.03,256.01 L385.28,255.94 L385.53,255.86 L385.78,255.79 L386.03,255.71 L386.28,255.64 L386.54,255.56 L386.79,255.49 L387.04,255.41 L387.29,255.34 L387.54,255.27 L387.80,255.19 L388.05,255.12 L388.30,255.05 L388.55,254.97 L388.80,254.90 L389.06,254.83 L389.31,254.75 L389.56,254.68 L389.81,254.61 L390.06,254.54 L390.31,254.46 L390.57,254.39 L390.82,254.32 L391.07,254.25 L391.32,254.18 L391.57,254.10 L391.83,254.03 L392.08,253.96 L392.33,253.89 L392.58,253.82 L392.83,253.75 L393.09,253.68 L393.34,253.61 L393.59,253.54 L393.84,253.47 L394.09,253.40 L394.34,253.33 L394.60,253.26 L394.85,253.19 L395.10,253.12 L395.35,253.05 L395.60,252.98 L395.86,252.91 L396.11,252.84 L396.36,252.77 L396.61,252.70 L396.86,252.64 L397.12,252.57 L397.37,252.50 L397.62,252.43 L397.87,252.36 L398.12,252.29 L398.37,252.23 L398.63,252.16 L398.88,252.09 L399.13,252.02 L399.38,251.96 L399.63,251.89 L399.89,251.82 L400.14,251.75 L400.39,251.69 L400.64,251.62 L400.89,251.55 L401.15,251.48 L401.40,251.42 L401.65,251.35 L401.90,251.28 L402.15,251.22 L402.40,251.15 L402.66,251.08 L402.91,251.02 L403.16,250.95 L403.41,250.89 L403.66,250.82 L403.92,250.75 L404.17,250.69 L404.42,250.62 L404.67,250.56 L404.92,250.49 L405.18,250.42 L405.43,250.36 L405.68,250.29 L405.93,250.23 L406.18,250.16 L406.43,250.10 L406.69,250.03 L406.94,249.97 L407.19,249.90 L407.44,249.84 L407.69,249.77 L407.95,249.71 L408.20,249.64 L408.45,249.58 L408.70,249.51 L408.95,249.45 L409.21,249.38 L409.46,249.32 L409.71,249.25 L409.96,249.19 L410.21,249.12 L410.46,249.06 L410.72,249.00 L410.97,248.93 L411.22,248.87 L411.47,248.80 L411.72,248.74 L411.98,248.67 L412.23,248.61 L412.48,248.55 L412.73,248.48 L412.98,248.42 L413.24,248.35 L413.49,248.29 L413.74,248.23 L413.99,248.16 L414.24,248.10 L414.49,248.03 L414.75,247.97 L415.00,247.91 L415.25,247.84 L415.50,247.78 L415.75,247.72 L416.01,247.65 L416.26,247.59 L416.51,247.53 L416.76,247.46 L417.01,247.40 L417.27,247.34 L417.52,247.27 L417.77,247.21 L418.02,247.15 L418.27,247.08 L418.52,247.02 L418.78,246.96 L419.03,246.90 L419.28,246.83 L419.53,246.77 L419.78,246.71 L420.04,246.64 L420.29,246.58 L420.54,246.52 L420.79,246.46 L421.04,246.39 L421.30,246.33 L421.55,246.27 L421.80,246.21 L422.05,246.14 L422.30,246.08 L422.55,246.02 L422.81,245.96 L423.06,245.89 L423.31,245.83 L423.56,245.77 L423.81,245.71 L424.07,245.65 L424.32,245.58 L424.57,245.52 L424.82,245.46 L425.07,245.40 L425.33,245.34 L425.58,245.27 L425.83,245.21 L426.08,245.15 L426.33,245.09 L426.58,245.03 L426.84,244.97 L427.09,244.91 L427.34,244.84 L427.59,244.78 L427.84,244.72 L428.10,244.66 L428.35,244.60 L428.60,244.54 L428.85,244.48 L429.10,244.42 L429.36,244.36 L429.61,244.30 L429.86,244.24 L430.11,244.17 L430.36,244.11 L430.61,244.05 L430.87,243.99 L431.12,243.93 L431.37,243.87 L431.62,243.81 L431.87,243.75 L432.13,243.69 L432.38,243.63 L432.63,243.57 L432.88,243.51 L433.13,243.46 L433.39,243.40 L433.64,243.34 L433.89,243.28 L434.14,243.22 L434.39,243.16 L434.64,243.10 L434.90,243.04 L435.15,242.98 L435.40,242.92 L435.65,242.87 L435.90,242.81 L436.16,242.75 L436.41,242.69 L436.66,242.63 L436.91,242.57 L437.16,242.52 L437.42,242.46 L437.67,242.40 L437.92,242.34 L438.17,242.29 L438.42,242.23 L438.67,242.17 L438.93,242.12 L439.18,242.06 L439.43,242.00 L439.68,241.94 L439.93,241.89 L440.19,241.83 L440.44,241.78 L440.69,241.72 L440.94,241.66 L441.19,241.61 L441.45,241.55 L441.70,241.50 L441.95,241.44 L442.20,241.39 L442.45,241.33 L442.70,241.28 L442.96,241.22 L443.21,241.17 L443.46,241.11 L443.71,241.06 L443.96,241.00 L444.22,240.95 L444.47,240.90 L444.72,240.84 L444.97,240.79 L445.22,240.73 L445.48,240.68 L445.73,240.63 L445.98,240.58 L446.23,240.52 L446.48,240.47 L446.73,240.42 L446.99,240.36 L447.24,240.31 L447.49,240.26 L447.74,240.21 L447.99,240.16 L448.25,240.11 L448.50,240.05 L448.75,240.00" fill="none" stroke="#00f" stroke-width="1.7"/>
<path d="M59.47,19.37L59.47,23.97M59.47,201.76L59.47,210.96M59.47,453.40L59.47,448.80M67.35,19.37L67.35,23.97M67.35,201.76L67.35,210.96M67.35,453.40L67.35,448.80M72.94,19.37L72.94,23.97M72.94,201.76L72.94,210.96M72.94,453.40L72.94,448.80M77.28,19.37L77.28,23.97M77.28,201.76L77.28,210.96M77.28,453.40L77.28,448.80M80.82,19.37L80.82,23.97M80.82,201.76L80.82,210.96M80.82,453.40L80.82,448.80M83.82,19.37L83.82,23.97M83.82,201.76L83.82,210.96M83.82,453.40L83.82,448.80M86.41,19.37L86.41,23.97M86.41,201.76L86.41,210.96M86.41,453.40L86.41,448.80M88.70,19.37L88.70,23.97M88.70,201.76L88.70,210.96M88.70,453.40L88.70,448.80M90.75,19.37L90.75,28.27M90.75,197.46L90.75,215.26M90.75,453.40L90.75,444.50M104.22,19.37L104.22,23.97M104.22,201.76L104.22,210.96M104.22,453.40L104.22,448.80M112.10,19.37L112.10,23.97M112.10,201.76L112.10,210.96M112.10,453.40L112.10,448.80M117.69,19.37L117.69,23.97M117.69,201.76L117.69,210.96M117.69,453.40L117.69,448.80M122.03,19.37L122.03,23.97M122.03,201.76L122.03,210.96M122.03,453.40L122.03,448.80M125.57,19.37L125.57,23.97M125.57,201.76L125.57,210.96M125.57,453.40L125.57,448.80M128.57,19.37L128.57,23.97M128.57,201.76L128.57,210.96M128.57,453.40L128.57,448.80M131.16,19.37L131.16,23.97M131.16,201.76L131.16,210.96M131.16,453.40L131.16,448.80M133.45,19.37L133.45,23.97M133.45,201.76L133.45,210.96M133.45,453.40L133.45,448.80M135.50,19.37L135.50,28.27M135.50,197.46L135.50,215.26M135.50,453.40L135.50,444.50M148.97,19.37L148.97,23.97M148.97,201.76L148.97,210.96M148.97,453.40L148.97,448.80M156.85,19.37L156.85,23.97M156.85,201.76L156.85,210.96M156.85,453.40L156.85,448.80M162.44,19.37L162.44,23.97M162.44,201.76L162.44,210.96M162.44,453.40L162.44,448.80M166.78,19.37L166.78,23.97M166.78,201.76L166.78,210.96M166.78,453.40L166.78,448.80M170.32,19.37L170.32,23.97M170.32,201.76L170.32,210.96M170.32,453.40L170.32,448.80M173.32,19.37L173.32,23.97M173.32,201.76L173.32,210.96M173.32,453.40L173.32,448.80M175.91,19.37L175.91,23.97M175.91,201.76L175.91,210.96M175.91,453.40L175.91,448.80M178.20,19.37L178.20,23.97M178.20,201.76L178.20,210.96M178.20,453.40L178.20,448.80M180.25,19.37L180.25,28.27M180.25,197.46L180.25,215.26M180.25,453.40L180.25,444.50M193.72,19.37L193.72,23.97M193.72,201.76L193.72,210.96M193.72,453.40L193.72,448.80M201.60,19.37L201.60,23.97M201.60,201.76L201.60,210.96M201.60,453.40L201.60,448.80M207.19,19.37L207.19,23.97M207.19,201.76L207.19,210.96M207.19,453.40L207.19,448.80M211.53,19.37L211.53,23.97M211.53,201.76L211.53,210.96M211.53,453.40L211.53,448.80M215.07,19.37L215.07,23.97M215.07,201.76L215.07,210.96M215.07,453.40L215.07,448.80M218.07,19.37L218.07,23.97M218.07,201.76L218.07,210.96M218.07,453.40L218.07,448.80M220.66,19.37L220.66,23.97M220.66,201.76L220.66,210.96M220.66,453.40L220.66,448.80M222.95,19.37L222.95,23.97M222.95,201.76L222.95,210.96M222.95,453.40L222.95,448.80M225.00,19.37L225.00,28.27M225.00,197.46L225.00,215.26M225.00,453.40L225.00,444.50M238.47,19.37L238.47,23.97M238.47,201.76L238.47,210.96M238.47,453.40L238.47,448.80M246.35,19.37L246.35,23.97M246.35,201.76L246.35,210.96M246.35,453.40L246.35,448.80M251.94,19.37L251.94,23.97M251.94,201.76L251.94,210.96M251.94,453.40L251.94,448.80M256.28,19.37L256.28,23.97M256.28,201.76L256.28,210.96M256.28,453.40L256.28,448.80M259.82,19.37L259.82,23.97M259.82,201.76L259.82,210.96M259.82,453.40L259.82,448.80M262.82,19.37L262.82,23.97M262.82,201.76L262.82,210.96M262.82,453.40L262.82,448.80M265.41,19.37L265.41,23.97M265.41,201.76L265.41,210.96M265.41,453.40L265.41,448.80M267.70,19.37L267.70,23.97M267.70,201.76L267.70,210.96M267.70,453.40L267.70,448.80M269.75,19.37L269.75,28.27M269.75,197.46L269.75,215.26M269.75,453.40L269.75,444.50M283.22,19.37L283.22,23.97M283.22,201.76L283.22,210.96M283.22,453.40L283.22,448.80M291.10,19.37L291.10,23.97M291.10,201.76L291.10,210.96M291.10,453.40L291.10,448.80M296.69,19.37L296.69,23.97M296.69,201.76L296.69,210.96M296.69,453.40L296.69,448.80M301.03,19.37L301.03,23.97M301.03,201.76L301.03,210.96M301.03,453.40L301.03,448.80M304.57,19.37L304.57,23.97M304.57,201.76L304.57,210.96M304.57,453.40L304.57,448.80M307.57,19.37L307.57,23.97M307.57,201.76L307.57,210.96M307.57,453.40L307.57,448.80M310.16,19.37L310.16,23.97M310.16,201.76L310.16,210.96M310.16,453.40L310.16,448.80M312.45,19.37L312.45,23.97M312.45,201.76L312.45,210.96M312.45,453.40L312.45,448.80M314.50,19.37L314.50,28.27M314.50,197.46L314.50,215.26M314.50,453.40L314.50,444.50M327.97,19.37L327.97,23.97M327.97,201.76L327.97,210.96M327.97,453.40L327.97,448.80M335.85,19.37L335.85,23.97M335.85,201.76L335.85,210.96M335.85,453.40L335.85,448.80M341.44,19.37L341.44,23.97M341.44,201.76L341.44,210.96M341.44,453.40L341.44,448.80M345.78,19.37L345.78,23.97M345.78,201.76L345.78,210.96M345.78,453.40L345.78,448.80M349.32,19.37L349.32,23.97M349.32,201.76L349.32,210.96M349.32,453.40L349.32,448.80M352.32,19.37L352.32,23.97M352.32,201.76L352.32,210.96M352.32,453.40L352.32,448.80M354.91,19.37L354.91,23.97M354.91,201.76L354.91,210.96M354.91,453.40L354.91,448.80M357.20,19.37L357.20,23.97M357.20,201.76L357.20,210.96M357.20,453.40L357.20,448.80M359.25,19.37L359.25,28.27M359.25,197.46L359.25,215.26M359.25,453.40L359.25,444.50M372.72,19.37L372.72,23.97M372.72,201.76L372.72,210.96M372.72,453.40L372.72,448.80M380.60,19.37L380.60,23.97M380.60,201.76L380.60,210.96M380.60,453.40L380.60,448.80M386.19,19.37L386.19,23.97M386.19,201.76L386.19,210.96M386.19,453.40L386.19,448.80M390.53,19.37L390.53,23.97M390.53,201.76L390.53,210.96M390.53,453.40L390.53,448.80M394.07,19.37L394.07,23.97M394.07,201.76L394.07,210.96M394.07,453.40L394.07,448.80M397.07,19.37L397.07,23.97M397.07,201.76L397.07,210.96M397.07,453.40L397.07,448.80M399.66,19.37L399.66,23.97M399.66,201.76L399.66,210.96M399.66,453.40L399.66,448.80M401.95,19.37L401.95,23.97M401.95,201.76L401.95,210.96M401.95,453.40L401.95,448.80M404.00,19.37L404.00,28.27M404.00,197.46L404.00,215.26M404.00,453.40L404.00,444.50M417.47,19.37L417.47,23.97M417.47,201.76L417.47,210.96M417.47,453.40L417.47,448.80M425.35,19.37L425.35,23.97M425.35,201.76L425.35,210.96M425.35,453.40L425.35,448.80M430.94,19.37L430.94,23.97M430.94,201.76L430.94,210.96M430.94,453.40L430.94,448.80M435.28,19.37L435.28,23.97M435.28,201.76L435.28,210.96M435.28,453.40L435.28,448.80M438.82,19.37L438.82,23.97M438.82,201.76L438.82,210.96M438.82,453.40L438.82,448.80M441.82,19.37L441.82,23.97M441.82,201.76L441.82,210.96M441.82,453.40L441.82,448.80M444.41,19.37L444.41,23.97M444.41,201.76L444.41,210.96M444.41,453.40L444.41,448.80M446.70,19.37L446.70,23.97M446.70,201.76L446.70,210.96M446.70,453.40L446.70,448.80M448.75,19.37L448.75,28.27M448.75,197.46L448.75,215.26M448.75,453.40L448.75,444.50M462.22,19.37L462.22,23.97M462.22,201.76L462.22,210.96M462.22,453.40L462.22,448.80M470.10,19.37L470.10,23.97M470.10,201.76L470.10,210.96M470.10,453.40L470.10,448.80M475.69,19.37L475.69,23.97M475.69,201.76L475.69,210.96M475.69,453.40L475.69,448.80M480.03,19.37L480.03,23.97M480.03,201.76L480.03,210.96M480.03,453.40L480.03,448.80M46.00,201.69L50.60,201.69M480.10,201.69L475.50,201.69M46.00,192.34L50.60,192.34M480.10,192.34L475.50,192.34M46.00,182.99L54.90,182.99M480.10,182.99L471.20,182.99M46.00,173.64L50.60,173.64M480.10,173.64L475.50,173.64M46.00,164.29L50.60,164.29M480.10,164.29L475.50,164.29M46.00,154.94L50.60,154.94M480.10,154.94L475.50,154.94M46.00,145.59L50.60,145.59M480.10,145.59L475.50,145.59M46.00,136.24L54.90,136.24M480.10,136.24L471.20,136.24M46.00,126.89L50.60,126.89M480.10,126.89L475.50,126.89M46.00,117.54L50.60,117.54M480.10,117.54L475.50,117.54M46.00,108.19L50.60,108.19M480.10,108.19L475.50,108.19M46.00,98.84L50.60,98.84M480.10,98.84L475.50,98.84M46.00,89.49L54.90,89.49M480.10,89.49L471.20,89.49M46.00,80.14L50.60,80.14M480.10,80.14L475.50,80.14M46.00,70.79L50.60,70.79M480.10,70.79L475.50,70.79M46.00,61.44L50.60,61.44M480.10,61.44L475.50,61.44M46.00,52.09L50.60,52.09M480.10,52.09L475.50,52.09M46.00,42.74L54.90,42.74M480.10,42.74L471.20,42.74M46.00,33.39L50.60,33.39M480.10,33.39L475.50,33.39M46.00,24.04L50.60,24.04M480.10,24.04L475.50,24.04M46.00,447.22L50.60,447.22M480.10,447.22L475.50,447.22M46.00,434.87L50.60,434.87M480.10,434.87L475.50,434.87M46.00,422.52L54.90,422.52M480.10,422.52L471.20,422.52M46.00,410.17L50.60,410.17M480.10,410.17L475.50,410.17M46.00,397.82L50.60,397.82M480.10,397.82L475.50,397.82M46.00,385.46L50.60,385.46M480.10,385.46L475.50,385.46M46.00,373.11L50.60,373.11M480.10,373.11L475.50,373.11M46.00,360.76L54.90,360.76M480.10,360.76L471.20,360.76M46.00,348.41L50.60,348.41M480.10,348.41L475.50,348.41M46.00,336.06L50.60,336.06M480.10,336.06L475.50,336.06M46.00,323.70L50.60,323.70M480.10,323.70L475.50,323.70M46.00,311.35L50.60,311.35M480.10,311.35L475.50,311.35M46.00,299.00L54.90,299.00M480.10,299.00L471.20,299.00M46.00,286.65L50.60,286.65M480.10,286.65L475.50,286.65M46.00,274.30L50.60,274.30M480.10,274.30L475.50,274.30M46.00,261.94L50.60,261.94M480.10,261.94L475.50,261.94M46.00,249.59L50.60,249.59M480.10,249.59L475.50,249.59M46.00,237.24L54.90,237.24M480.10,237.24L471.20,237.24M46.00,224.89L50.60,224.89M480.10,224.89L475.50,224.89M46.00,212.54L50.60,212.54M480.10,212.54L475.50,212.54" fill="none" stroke="#111" stroke-width="1.15"/>
<rect x="46.0" y="19.37" width="434.1" height="434.03" fill="none" stroke="#111" stroke-width="1.15"/>
<line x1="46.0" y1="206.36" x2="480.1" y2="206.36" stroke="#111" stroke-width="1.15"/>
<text transform="translate(38.10,47.64) scale(1.05,1)" font-family="Liberation Sans, sans-serif" font-size="14.8" fill="#1a1a1a" text-anchor="end" stroke="#1a1a1a" stroke-width="0.22">0.3</text>
<text transform="translate(38.10,94.39) scale(1.05,1)" font-family="Liberation Sans, sans-serif" font-size="14.8" fill="#1a1a1a" text-anchor="end" stroke="#1a1a1a" stroke-width="0.22">0.2</text>
<text transform="translate(38.10,141.14) scale(1.05,1)" font-family="Liberation Sans, sans-serif" font-size="14.8" fill="#1a1a1a" text-anchor="end" stroke="#1a1a1a" stroke-width="0.22">0.1</text>
<text transform="translate(38.10,187.89) scale(1.05,1)" font-family="Liberation Sans, sans-serif" font-size="14.8" fill="#1a1a1a" text-anchor="end" stroke="#1a1a1a" stroke-width="0.22">0</text>
<text transform="translate(38.70,242.14) scale(0.96,1)" font-family="Liberation Sans, sans-serif" font-size="14.8" fill="#1a1a1a" text-anchor="end" stroke="#1a1a1a" stroke-width="0.22">0.3</text>
<text transform="translate(38.70,303.90) scale(0.96,1)" font-family="Liberation Sans, sans-serif" font-size="14.8" fill="#1a1a1a" text-anchor="end" stroke="#1a1a1a" stroke-width="0.22">0.2</text>
<text transform="translate(38.70,365.66) scale(0.96,1)" font-family="Liberation Sans, sans-serif" font-size="14.8" fill="#1a1a1a" text-anchor="end" stroke="#1a1a1a" stroke-width="0.22">0.1</text>
<text transform="translate(38.70,427.42) scale(0.96,1)" font-family="Liberation Sans, sans-serif" font-size="14.8" fill="#1a1a1a" text-anchor="end" stroke="#1a1a1a" stroke-width="0.22">0</text>
<text transform="translate(46.50,470.20) scale(0.92,1)" font-family="Liberation Sans, sans-serif" font-size="14.8" fill="#1a1a1a" text-anchor="middle" >100</text>
<text transform="translate(90.95,470.20) scale(0.92,1)" font-family="Liberation Sans, sans-serif" font-size="14.8" fill="#1a1a1a" text-anchor="middle" >1000</text>
<text transform="translate(126.90,470.20) scale(0.89,1)" font-family="Liberation Sans, sans-serif" font-size="14.8" fill="#1a1a1a" text-anchor="start" >10</text>
<text transform="translate(140.40,466.30) scale(1.15,1)" font-family="Liberation Sans, sans-serif" font-size="8.8" fill="#1a1a1a" text-anchor="start" stroke="#1a1a1a" stroke-width="0.3">4</text>
<text transform="translate(171.65,470.20) scale(0.89,1)" font-family="Liberation Sans, sans-serif" font-size="14.8" fill="#1a1a1a" text-anchor="start" >10</text>
<text transform="translate(185.15,466.30) scale(1.15,1)" font-family="Liberation Sans, sans-serif" font-size="8.8" fill="#1a1a1a" text-anchor="start" stroke="#1a1a1a" stroke-width="0.3">5</text>
<text transform="translate(216.40,470.20) scale(0.89,1)" font-family="Liberation Sans, sans-serif" font-size="14.8" fill="#1a1a1a" text-anchor="start" >10</text>
<text transform="translate(229.90,466.30) scale(1.15,1)" font-family="Liberation Sans, sans-serif" font-size="8.8" fill="#1a1a1a" text-anchor="start" stroke="#1a1a1a" stroke-width="0.3">6</text>
<text transform="translate(261.15,470.20) scale(0.89,1)" font-family="Liberation Sans, sans-serif" font-size="14.8" fill="#1a1a1a" text-anchor="start" >10</text>
<text transform="translate(274.65,466.30) scale(1.15,1)" font-family="Liberation Sans, sans-serif" font-size="8.8" fill="#1a1a1a" text-anchor="start" stroke="#1a1a1a" stroke-width="0.3">7</text>
<text transform="translate(305.90,470.20) scale(0.89,1)" font-family="Liberation Sans, sans-serif" font-size="14.8" fill="#1a1a1a" text-anchor="start" >10</text>
<text transform="translate(319.40,466.30) scale(1.15,1)" font-family="Liberation Sans, sans-serif" font-size="8.8" fill="#1a1a1a" text-anchor="start" stroke="#1a1a1a" stroke-width="0.3">8</text>
<text transform="translate(350.65,470.20) scale(0.89,1)" font-family="Liberation Sans, sans-serif" font-size="14.8" fill="#1a1a1a" text-anchor="start" >10</text>
<text transform="translate(364.15,466.30) scale(1.15,1)" font-family="Liberation Sans, sans-serif" font-size="8.8" fill="#1a1a1a" text-anchor="start" stroke="#1a1a1a" stroke-width="0.3">9</text>
<text transform="translate(392.60,470.20) scale(0.89,1)" font-family="Liberation Sans, sans-serif" font-size="14.8" fill="#1a1a1a" text-anchor="start" >10</text>
<text transform="translate(406.10,466.30) scale(1.15,1)" font-family="Liberation Sans, sans-serif" font-size="8.8" fill="#1a1a1a" text-anchor="start" stroke="#1a1a1a" stroke-width="0.3">10</text>
<text transform="translate(437.35,470.20) scale(0.89,1)" font-family="Liberation Sans, sans-serif" font-size="14.8" fill="#1a1a1a" text-anchor="start" >10</text>
<text transform="translate(450.85,466.30) scale(1.15,1)" font-family="Liberation Sans, sans-serif" font-size="8.8" fill="#1a1a1a" text-anchor="start" stroke="#1a1a1a" stroke-width="0.3">11</text>
<text transform="translate(267.80,11.90) scale(0.92,1)" font-family="Liberation Serif, serif" font-size="14.6" fill="#1a1a1a" text-anchor="middle" stroke="#1a1a1a" stroke-width="0.2">HCN</text>
<text transform="translate(223.00,485.90) scale(0.92,1)" font-family="Liberation Serif, serif" font-size="14.5" fill="#1a1a1a" text-anchor="start" stroke="#1a1a1a" stroke-width="0.25">T</text>
<text transform="translate(230.80,489.50) scale(1.0,1)" font-family="Liberation Sans, sans-serif" font-size="9.0" fill="#1a1a1a" text-anchor="start" font-weight="bold">b</text>
<text transform="translate(236.20,485.90) scale(0.9,1)" font-family="Liberation Serif, serif" font-size="14.2" fill="#1a1a1a" text-anchor="start" stroke="#1a1a1a" stroke-width="0.25">ΔΩ</text>
<text transform="translate(261.00,485.90) scale(1.03,1)" font-family="Liberation Serif, serif" font-size="14.5" fill="#1a1a1a" text-anchor="start" stroke="#1a1a1a" stroke-width="0.25">(K</text>
<text transform="translate(282.80,485.90) scale(1.15,1)" font-family="Liberation Serif, serif" font-size="14.5" fill="#1a1a1a" text-anchor="start" letter-spacing="1.3" stroke="#1a1a1a" stroke-width="0.25">sr)</text>
<g transform="translate(12.1,119.37) rotate(-90)">
<text transform="translate(0.00,0.00) scale(1.0,1)" font-family="Liberation Serif, serif" font-size="14.8" fill="#1a1a1a" text-anchor="start" stroke="#1a1a1a" stroke-width="0.25">P</text>
<text transform="translate(8.20,4.30) scale(1.0,1)" font-family="Liberation Sans, sans-serif" font-size="10.0" fill="#1a1a1a" text-anchor="start" font-weight="bold">L</text>
</g>
<g transform="translate(12.1,336.38) rotate(-90)">
<text transform="translate(0.00,0.00) scale(1.0,1)" font-family="Liberation Serif, serif" font-size="14.8" fill="#1a1a1a" text-anchor="start" stroke="#1a1a1a" stroke-width="0.25">P</text>
<text transform="translate(8.20,4.30) scale(1.0,1)" font-family="Liberation Sans, sans-serif" font-size="10.0" fill="#1a1a1a" text-anchor="start" font-weight="bold">L</text>
</g>
<line x1="59.0" y1="42.8" x2="89.3" y2="42.8" stroke="#222" stroke-width="1.1" stroke-dasharray="1.6 2.1 6.9 2.0"/>
<text transform="translate(104.40,46.00) scale(1.137,1)" font-family="Liberation Serif, serif" font-size="13.9" fill="#1a1a1a" text-anchor="start" stroke="#1a1a1a" stroke-width="0.35">89.0877</text>
<text transform="translate(162.60,46.00) scale(0.95,1)" font-family="Liberation Serif, serif" font-size="13.9" fill="#1a1a1a" text-anchor="start" stroke="#1a1a1a" stroke-width="0.4">GHz</text>
<line x1="59.0" y1="237.6" x2="89.3" y2="237.6" stroke="#000" stroke-width="1.5"/>
<text transform="translate(104.40,241.80) scale(1.137,1)" font-family="Liberation Serif, serif" font-size="13.9" fill="#1a1a1a" text-anchor="start" stroke="#1a1a1a" stroke-width="0.35">177.2387</text>
<text transform="translate(170.40,241.80) scale(0.95,1)" font-family="Liberation Serif, serif" font-size="13.9" fill="#1a1a1a" text-anchor="start" stroke="#1a1a1a" stroke-width="0.4">GHz</text>
<line x1="59.0" y1="249.8" x2="89.3" y2="249.8" stroke="#f00" stroke-width="1.8" stroke-dasharray="1.6 2.1 6.9 2.0"/>
<text transform="translate(104.40,254.00) scale(1.137,1)" font-family="Liberation Serif, serif" font-size="13.9" fill="#1a1a1a" text-anchor="start" stroke="#1a1a1a" stroke-width="0.35">267.1993</text>
<text transform="translate(170.40,254.00) scale(0.95,1)" font-family="Liberation Serif, serif" font-size="13.9" fill="#1a1a1a" text-anchor="start" stroke="#1a1a1a" stroke-width="0.4">GHz</text>
<line x1="59.0" y1="262.0" x2="89.3" y2="262.0" stroke="#00f" stroke-width="1.8" stroke-dasharray="6.9 4.5"/>
<text transform="translate(104.40,266.20) scale(1.137,1)" font-family="Liberation Serif, serif" font-size="13.9" fill="#1a1a1a" text-anchor="start" stroke="#1a1a1a" stroke-width="0.35">354.4605</text>
<text transform="translate(170.40,266.20) scale(0.95,1)" font-family="Liberation Serif, serif" font-size="13.9" fill="#1a1a1a" text-anchor="start" stroke="#1a1a1a" stroke-width="0.4">GHz</text>
</svg>
</body></html>
